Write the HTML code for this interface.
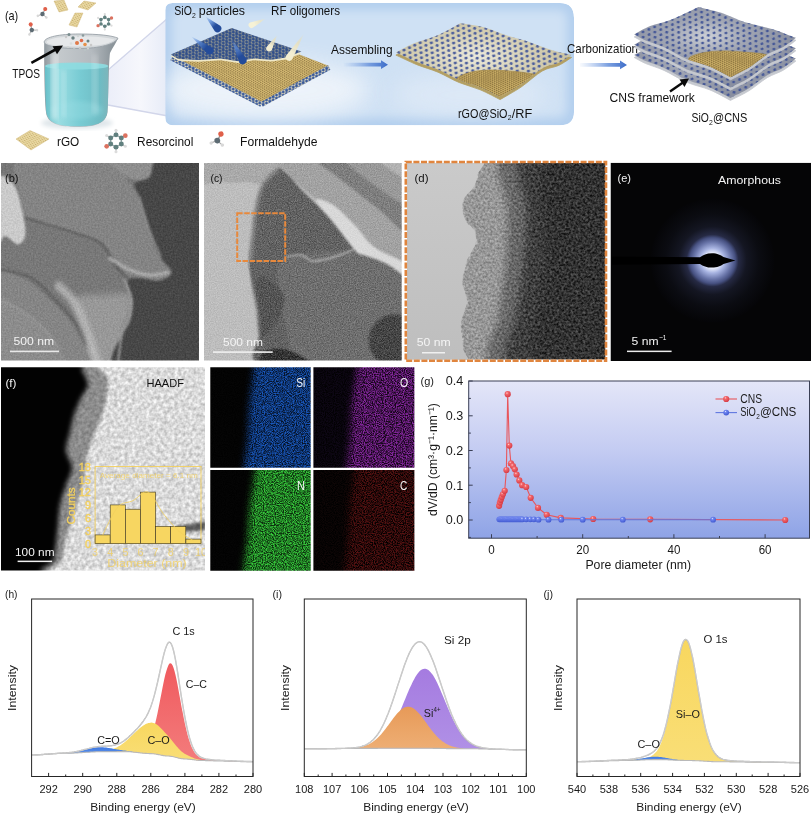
<!DOCTYPE html><html><head><meta charset="utf-8"><title>figure</title><style>html,body{margin:0;padding:0;background:#fff}svg{display:block;opacity:0.999}text{font-family:"Liberation Sans",sans-serif}</style></head><body>
<svg width="811" height="815" viewBox="0 0 811 815">
<rect width="811" height="815" fill="#fff"/>
<defs>
<radialGradient id="boxg" cx="0.40" cy="0.58" r="0.75" gradientTransform="translate(0 0.25) scale(1 0.55)"><stop offset="0" stop-color="#eef3fa"/><stop offset="0.45" stop-color="#dbe7f5"/><stop offset="1" stop-color="#a9c8ec"/></radialGradient>
<linearGradient id="beamg" x1="100" y1="0" x2="168" y2="0" gradientUnits="userSpaceOnUse"><stop offset="0" stop-color="#e9ecf8"/><stop offset="0.6" stop-color="#f6f7fc"/><stop offset="1" stop-color="#e6ebf7"/></linearGradient>
<linearGradient id="liq" x1="44" y1="0" x2="110" y2="0" gradientUnits="userSpaceOnUse"><stop offset="0" stop-color="#62bcc6"/><stop offset="0.22" stop-color="#9adde2"/><stop offset="0.55" stop-color="#78cbd3"/><stop offset="0.85" stop-color="#6fbcc4"/><stop offset="1" stop-color="#7fb4b9"/></linearGradient>
<linearGradient id="glass" x1="44" y1="0" x2="112" y2="0" gradientUnits="userSpaceOnUse"><stop offset="0" stop-color="#8f989e"/><stop offset="0.2" stop-color="#c5cacd"/><stop offset="0.7" stop-color="#b4babf"/><stop offset="1" stop-color="#8c959b"/></linearGradient>
<linearGradient id="arrg" x1="0" y1="0" x2="1" y2="0"><stop offset="0" stop-color="#7fa6e6" stop-opacity="0.05"/><stop offset="0.6" stop-color="#5b88d8" stop-opacity="0.8"/><stop offset="1" stop-color="#3c6cc8"/></linearGradient>
<pattern id="pgold" width="10" height="10" patternUnits="userSpaceOnUse" patternTransform="matrix(0.1821,-0.0848,0.1800,0.0930,171.50,56.50)"><rect width="10" height="10" fill="#d9be76"/><g transform="translate(-7.5,-7.5) matrix(2.887,2.634,-5.588,5.654,0,0)"><circle r="0.62" fill="#8d7542"/></g><g transform="translate(-7.5,2.5) matrix(2.887,2.634,-5.588,5.654,0,0)"><circle r="0.62" fill="#8d7542"/></g><g transform="translate(-7.5,12.5) matrix(2.887,2.634,-5.588,5.654,0,0)"><circle r="0.62" fill="#8d7542"/></g><g transform="translate(2.5,-7.5) matrix(2.887,2.634,-5.588,5.654,0,0)"><circle r="0.62" fill="#8d7542"/></g><g transform="translate(2.5,2.5) matrix(2.887,2.634,-5.588,5.654,0,0)"><circle r="0.62" fill="#8d7542"/></g><g transform="translate(2.5,12.5) matrix(2.887,2.634,-5.588,5.654,0,0)"><circle r="0.62" fill="#8d7542"/></g><g transform="translate(12.5,-7.5) matrix(2.887,2.634,-5.588,5.654,0,0)"><circle r="0.62" fill="#8d7542"/></g><g transform="translate(12.5,2.5) matrix(2.887,2.634,-5.588,5.654,0,0)"><circle r="0.62" fill="#8d7542"/></g><g transform="translate(12.5,12.5) matrix(2.887,2.634,-5.588,5.654,0,0)"><circle r="0.62" fill="#8d7542"/></g></pattern>
<pattern id="pblue" width="10" height="10" patternUnits="userSpaceOnUse" patternTransform="matrix(0.3339,-0.1556,0.3333,0.1722,171.50,56.50)"><rect width="10" height="10" fill="#a9a893"/><g transform="translate(-7.5,-7.5) matrix(1.575,1.422,-3.048,3.053,0,0)"><circle r="1.55" fill="#33508a"/></g><g transform="translate(-7.5,2.5) matrix(1.575,1.422,-3.048,3.053,0,0)"><circle r="1.55" fill="#33508a"/></g><g transform="translate(-7.5,12.5) matrix(1.575,1.422,-3.048,3.053,0,0)"><circle r="1.55" fill="#33508a"/></g><g transform="translate(2.5,-7.5) matrix(1.575,1.422,-3.048,3.053,0,0)"><circle r="1.55" fill="#33508a"/></g><g transform="translate(2.5,2.5) matrix(1.575,1.422,-3.048,3.053,0,0)"><circle r="1.55" fill="#33508a"/></g><g transform="translate(2.5,12.5) matrix(1.575,1.422,-3.048,3.053,0,0)"><circle r="1.55" fill="#33508a"/></g><g transform="translate(12.5,-7.5) matrix(1.575,1.422,-3.048,3.053,0,0)"><circle r="1.55" fill="#33508a"/></g><g transform="translate(12.5,2.5) matrix(1.575,1.422,-3.048,3.053,0,0)"><circle r="1.55" fill="#33508a"/></g><g transform="translate(12.5,12.5) matrix(1.575,1.422,-3.048,3.053,0,0)"><circle r="1.55" fill="#33508a"/></g></pattern>
<pattern id="pedge" width="10" height="10" patternUnits="userSpaceOnUse" patternTransform="matrix(0.3339,-0.1556,0.3333,0.1722,171.50,56.50)"><rect width="10" height="10" fill="#e6dfc0"/><g transform="translate(-7.5,-7.5) matrix(1.575,1.422,-3.048,3.053,0,0)"><circle r="1.5" fill="#35569a"/></g><g transform="translate(-7.5,2.5) matrix(1.575,1.422,-3.048,3.053,0,0)"><circle r="1.5" fill="#35569a"/></g><g transform="translate(-7.5,12.5) matrix(1.575,1.422,-3.048,3.053,0,0)"><circle r="1.5" fill="#35569a"/></g><g transform="translate(2.5,-7.5) matrix(1.575,1.422,-3.048,3.053,0,0)"><circle r="1.5" fill="#35569a"/></g><g transform="translate(2.5,2.5) matrix(1.575,1.422,-3.048,3.053,0,0)"><circle r="1.5" fill="#35569a"/></g><g transform="translate(2.5,12.5) matrix(1.575,1.422,-3.048,3.053,0,0)"><circle r="1.5" fill="#35569a"/></g><g transform="translate(12.5,-7.5) matrix(1.575,1.422,-3.048,3.053,0,0)"><circle r="1.5" fill="#35569a"/></g><g transform="translate(12.5,2.5) matrix(1.575,1.422,-3.048,3.053,0,0)"><circle r="1.5" fill="#35569a"/></g><g transform="translate(12.5,12.5) matrix(1.575,1.422,-3.048,3.053,0,0)"><circle r="1.5" fill="#35569a"/></g></pattern>
<pattern id="pcream" width="10" height="10" patternUnits="userSpaceOnUse" patternTransform="matrix(0.5367,-0.2442,0.5789,0.2539,395.90,52.50)"><g transform="translate(-7.5,-7.5) matrix(0.915,0.880,-2.085,1.933,0,0)"><circle r="1.45" fill="#4b5d9c"/></g><g transform="translate(-7.5,2.5) matrix(0.915,0.880,-2.085,1.933,0,0)"><circle r="1.45" fill="#4b5d9c"/></g><g transform="translate(-7.5,12.5) matrix(0.915,0.880,-2.085,1.933,0,0)"><circle r="1.45" fill="#4b5d9c"/></g><g transform="translate(2.5,-7.5) matrix(0.915,0.880,-2.085,1.933,0,0)"><circle r="1.45" fill="#4b5d9c"/></g><g transform="translate(2.5,2.5) matrix(0.915,0.880,-2.085,1.933,0,0)"><circle r="1.45" fill="#4b5d9c"/></g><g transform="translate(2.5,12.5) matrix(0.915,0.880,-2.085,1.933,0,0)"><circle r="1.45" fill="#4b5d9c"/></g><g transform="translate(12.5,-7.5) matrix(0.915,0.880,-2.085,1.933,0,0)"><circle r="1.45" fill="#4b5d9c"/></g><g transform="translate(12.5,2.5) matrix(0.915,0.880,-2.085,1.933,0,0)"><circle r="1.45" fill="#4b5d9c"/></g><g transform="translate(12.5,12.5) matrix(0.915,0.880,-2.085,1.933,0,0)"><circle r="1.45" fill="#4b5d9c"/></g></pattern>
<pattern id="pgold2" width="10" height="10" patternUnits="userSpaceOnUse" patternTransform="matrix(0.2147,-0.0977,0.2171,0.0952,395.90,52.50)"><rect width="10" height="10" fill="#d6b96e"/><g transform="translate(-7.5,-7.5) matrix(2.286,2.346,-5.213,5.155,0,0)"><circle r="0.8" fill="#866e3a"/></g><g transform="translate(-7.5,2.5) matrix(2.286,2.346,-5.213,5.155,0,0)"><circle r="0.8" fill="#866e3a"/></g><g transform="translate(-7.5,12.5) matrix(2.286,2.346,-5.213,5.155,0,0)"><circle r="0.8" fill="#866e3a"/></g><g transform="translate(2.5,-7.5) matrix(2.286,2.346,-5.213,5.155,0,0)"><circle r="0.8" fill="#866e3a"/></g><g transform="translate(2.5,2.5) matrix(2.286,2.346,-5.213,5.155,0,0)"><circle r="0.8" fill="#866e3a"/></g><g transform="translate(2.5,12.5) matrix(2.286,2.346,-5.213,5.155,0,0)"><circle r="0.8" fill="#866e3a"/></g><g transform="translate(12.5,-7.5) matrix(2.286,2.346,-5.213,5.155,0,0)"><circle r="0.8" fill="#866e3a"/></g><g transform="translate(12.5,2.5) matrix(2.286,2.346,-5.213,5.155,0,0)"><circle r="0.8" fill="#866e3a"/></g><g transform="translate(12.5,12.5) matrix(2.286,2.346,-5.213,5.155,0,0)"><circle r="0.8" fill="#866e3a"/></g></pattern>
<radialGradient id="creamg" cx="0.45" cy="0.45" r="0.6"><stop offset="0" stop-color="#ebe9dc"/><stop offset="0.5" stop-color="#d6d0b6"/><stop offset="1" stop-color="#c8c09e"/></radialGradient>
<pattern id="pgrey" width="10" height="10" patternUnits="userSpaceOnUse" patternTransform="matrix(0.5836,-0.2500,0.6019,0.2650,634.20,34.40)"><g transform="translate(-7.5,-7.5) matrix(0.868,0.819,-1.973,1.913,0,0)"><circle r="1.4" fill="#425596"/></g><g transform="translate(-7.5,2.5) matrix(0.868,0.819,-1.973,1.913,0,0)"><circle r="1.4" fill="#425596"/></g><g transform="translate(-7.5,12.5) matrix(0.868,0.819,-1.973,1.913,0,0)"><circle r="1.4" fill="#425596"/></g><g transform="translate(2.5,-7.5) matrix(0.868,0.819,-1.973,1.913,0,0)"><circle r="1.4" fill="#425596"/></g><g transform="translate(2.5,2.5) matrix(0.868,0.819,-1.973,1.913,0,0)"><circle r="1.4" fill="#425596"/></g><g transform="translate(2.5,12.5) matrix(0.868,0.819,-1.973,1.913,0,0)"><circle r="1.4" fill="#425596"/></g><g transform="translate(12.5,-7.5) matrix(0.868,0.819,-1.973,1.913,0,0)"><circle r="1.4" fill="#425596"/></g><g transform="translate(12.5,2.5) matrix(0.868,0.819,-1.973,1.913,0,0)"><circle r="1.4" fill="#425596"/></g><g transform="translate(12.5,12.5) matrix(0.868,0.819,-1.973,1.913,0,0)"><circle r="1.4" fill="#425596"/></g></pattern>
<pattern id="pgold3" width="10" height="10" patternUnits="userSpaceOnUse" patternTransform="matrix(0.2140,-0.0917,0.2189,0.0964,634.20,34.40)"><rect width="10" height="10" fill="#d6b96e"/><g transform="translate(-7.5,-7.5) matrix(2.369,2.253,-5.380,5.260,0,0)"><circle r="0.8" fill="#866e3a"/></g><g transform="translate(-7.5,2.5) matrix(2.369,2.253,-5.380,5.260,0,0)"><circle r="0.8" fill="#866e3a"/></g><g transform="translate(-7.5,12.5) matrix(2.369,2.253,-5.380,5.260,0,0)"><circle r="0.8" fill="#866e3a"/></g><g transform="translate(2.5,-7.5) matrix(2.369,2.253,-5.380,5.260,0,0)"><circle r="0.8" fill="#866e3a"/></g><g transform="translate(2.5,2.5) matrix(2.369,2.253,-5.380,5.260,0,0)"><circle r="0.8" fill="#866e3a"/></g><g transform="translate(2.5,12.5) matrix(2.369,2.253,-5.380,5.260,0,0)"><circle r="0.8" fill="#866e3a"/></g><g transform="translate(12.5,-7.5) matrix(2.369,2.253,-5.380,5.260,0,0)"><circle r="0.8" fill="#866e3a"/></g><g transform="translate(12.5,2.5) matrix(2.369,2.253,-5.380,5.260,0,0)"><circle r="0.8" fill="#866e3a"/></g><g transform="translate(12.5,12.5) matrix(2.369,2.253,-5.380,5.260,0,0)"><circle r="0.8" fill="#866e3a"/></g></pattern>
<radialGradient id="greyg" cx="0.45" cy="0.42" r="0.55"><stop offset="0" stop-color="#cccfd6"/><stop offset="0.45" stop-color="#a0a5b3"/><stop offset="1" stop-color="#898fa0"/></radialGradient>
<pattern id="pmini" width="10" height="10" patternUnits="userSpaceOnUse" patternTransform="matrix(0.2000,-0.0800,0.1200,0.1600,0.00,0.00)"><rect width="10" height="10" fill="#e9d8a2"/><g transform="translate(-7.5,-7.5) matrix(3.846,1.923,-2.885,4.808,0,0)"><circle r="0.55" fill="#c2a866"/></g><g transform="translate(-7.5,2.5) matrix(3.846,1.923,-2.885,4.808,0,0)"><circle r="0.55" fill="#c2a866"/></g><g transform="translate(-7.5,12.5) matrix(3.846,1.923,-2.885,4.808,0,0)"><circle r="0.55" fill="#c2a866"/></g><g transform="translate(2.5,-7.5) matrix(3.846,1.923,-2.885,4.808,0,0)"><circle r="0.55" fill="#c2a866"/></g><g transform="translate(2.5,2.5) matrix(3.846,1.923,-2.885,4.808,0,0)"><circle r="0.55" fill="#c2a866"/></g><g transform="translate(2.5,12.5) matrix(3.846,1.923,-2.885,4.808,0,0)"><circle r="0.55" fill="#c2a866"/></g><g transform="translate(12.5,-7.5) matrix(3.846,1.923,-2.885,4.808,0,0)"><circle r="0.55" fill="#c2a866"/></g><g transform="translate(12.5,2.5) matrix(3.846,1.923,-2.885,4.808,0,0)"><circle r="0.55" fill="#c2a866"/></g><g transform="translate(12.5,12.5) matrix(3.846,1.923,-2.885,4.808,0,0)"><circle r="0.55" fill="#c2a866"/></g></pattern>
<clipPath id="boxclip"><path d="M172.5,3 H560 Q574,3 574,18 V112 Q574,125.3 560,125.3 H172.5 Q165.3,125.3 165.3,118 V10 Q165.3,3 172.5,3 Z"/></clipPath>
<filter id="sbl5" x="-20%" y="-20%" width="140%" height="140%"><feGaussianBlur stdDeviation="5"/></filter>
<filter id="sbl12" x="-30%" y="-30%" width="160%" height="160%"><feGaussianBlur stdDeviation="12"/></filter>
<linearGradient id="cm0" x1="205.5" y1="16.5" x2="217.5" y2="28.5" gradientUnits="userSpaceOnUse"><stop offset="0" stop-color="#5c8cd8" stop-opacity="0"/><stop offset="0.4" stop-color="#5c8cd8" stop-opacity="0.8"/><stop offset="0.8" stop-color="#244c9a"/><stop offset="1" stop-color="#244c9a"/></linearGradient>
<linearGradient id="cm1" x1="191" y1="36.2" x2="209.6" y2="50.6" gradientUnits="userSpaceOnUse"><stop offset="0" stop-color="#5c8cd8" stop-opacity="0"/><stop offset="0.4" stop-color="#5c8cd8" stop-opacity="0.8"/><stop offset="0.8" stop-color="#244c9a"/><stop offset="1" stop-color="#244c9a"/></linearGradient>
<linearGradient id="cm2" x1="231.2" y1="38.8" x2="242.8" y2="60.6" gradientUnits="userSpaceOnUse"><stop offset="0" stop-color="#5a88d4" stop-opacity="0"/><stop offset="0.4" stop-color="#5a88d4" stop-opacity="0.8"/><stop offset="0.8" stop-color="#244c9a"/><stop offset="1" stop-color="#244c9a"/></linearGradient>
<linearGradient id="cm3" x1="266" y1="18.4" x2="251.4" y2="25.1" gradientUnits="userSpaceOnUse"><stop offset="0" stop-color="#efe6c0" stop-opacity="0"/><stop offset="0.4" stop-color="#efe6c0" stop-opacity="0.8"/><stop offset="0.8" stop-color="#f6f2d6"/><stop offset="1" stop-color="#f6f2d6"/></linearGradient>
<linearGradient id="cm4" x1="277.5" y1="34.6" x2="269.2" y2="48.4" gradientUnits="userSpaceOnUse"><stop offset="0" stop-color="#e8dfba" stop-opacity="0"/><stop offset="0.4" stop-color="#e8dfba" stop-opacity="0.8"/><stop offset="0.8" stop-color="#f2edd2"/><stop offset="1" stop-color="#f2edd2"/></linearGradient>
<linearGradient id="cm5" x1="304.4" y1="33" x2="289.2" y2="57.3" gradientUnits="userSpaceOnUse"><stop offset="0" stop-color="#e8dfba" stop-opacity="0"/><stop offset="0.4" stop-color="#e8dfba" stop-opacity="0.8"/><stop offset="0.8" stop-color="#f3eed2"/><stop offset="1" stop-color="#f3eed2"/></linearGradient>
<clipPath id="cl_top2"><path d="M395.9,52.5 C398.8,51.0 406.6,46.4 413.4,43.6 C420.3,40.8 429.1,39.0 436.9,35.6 C444.7,32.2 456.4,25.3 460.3,23.2 C464.2,23.9 475.9,25.1 483.7,27.2 C491.5,29.3 499.3,33.1 507.2,35.6 C515.0,38.2 522.8,39.9 530.6,42.4 C538.4,45.0 547.2,48.8 554.0,50.8 C560.8,52.9 568.7,54.2 571.6,54.8 C569.4,56.2 563.6,60.5 558.7,62.8 C553.8,65.1 548.5,64.8 542.3,68.4 C536.0,72.0 528.2,79.6 521.2,84.4 C514.2,89.1 503.6,94.9 500.1,97.0 C496.8,95.4 487.0,90.0 480.2,87.2 C473.4,84.3 466.1,82.8 459.1,79.9 C452.1,77.0 445.1,72.6 438.0,69.6 C431.0,66.6 424.0,64.9 416.9,62.1 C409.9,59.2 399.4,54.1 395.9,52.5Z"/></clipPath>
<clipPath id="cl_top3"><path d="M634.2,34.4 C636.9,33.0 644.1,28.6 650.2,26.1 C656.3,23.7 662.8,22.9 670.9,19.7 C678.9,16.5 693.8,9.0 698.4,6.9 C702.2,7.9 713.7,10.3 721.3,12.8 C729.0,15.4 735.9,19.3 744.3,22.0 C752.7,24.7 763.2,26.3 771.8,28.9 C780.4,31.5 791.9,36.4 795.9,37.8 C793.8,39.4 788.0,44.2 783.3,47.0 C778.5,49.8 772.9,51.1 767.2,54.6 C761.5,58.0 755.0,63.9 748.9,67.7 C742.7,71.4 733.6,75.7 730.5,77.3 C727.1,75.5 717.1,69.8 709.9,66.7 C702.6,63.7 694.6,62.4 686.9,59.2 C679.3,55.9 670.9,50.4 664.0,47.2 C657.1,44.1 650.6,42.5 645.6,40.4 C640.7,38.2 636.1,35.4 634.2,34.4Z"/></clipPath>
<filter id="sbl2"><feGaussianBlur stdDeviation="2"/></filter><filter id="sbl05"><feGaussianBlur stdDeviation="0.6"/></filter>
</defs>
<path d="M108,70 L168,18 L168,116 L108,105 Z" fill="url(#beamg)"/>
<path d="M108,70 L168,18" stroke="#d2d6ea" stroke-width="1.4" fill="none" filter="url(#sbl05)"/><path d="M108,105 L168,116" stroke="#d2d6ea" stroke-width="1.4" fill="none" filter="url(#sbl05)"/>
<g clip-path="url(#boxclip)"><path d="M172.5,3 H560 Q574,3 574,18 V112 Q574,125.3 560,125.3 H172.5 Q165.3,125.3 165.3,118 V10 Q165.3,3 172.5,3 Z" fill="#b3cfee"/><rect x="172" y="10" width="395" height="108" rx="8" fill="#cfe1f4" filter="url(#sbl5)"/><ellipse cx="265" cy="90" rx="105" ry="30" fill="#f2f6fb" opacity="0.85" filter="url(#sbl12)"/><ellipse cx="470" cy="95" rx="80" ry="22" fill="#e6eef8" opacity="0.6" filter="url(#sbl12)"/></g>
<ellipse cx="77" cy="123" rx="36" ry="6" fill="#dfe6ea" filter="url(#sbl2)"/>
<path d="M44.2,42 C44,60 44.5,100 46,112 C47,124 60,127 77,127 C94,127 106,124 107.5,112 C108.5,100 108.5,64 110,53 C113,47 116,43 118,38.5 L44.2,42 Z" fill="url(#glass)"/>
<path d="M45,66 C55,62.5 98,62.5 108.3,66 C108.3,100 108,104 107.3,112 C106,124 94,126.3 77,126.3 C60,126.3 48,124 46.3,112 C45.3,100 45,80 45,66 Z" fill="url(#liq)"/>
<ellipse cx="76.7" cy="66" rx="31.6" ry="3.6" fill="#8fdbe0" opacity="0.9"/>
<ellipse cx="77" cy="110" rx="26" ry="9" fill="#9be0e6" opacity="0.35" filter="url(#sbl2)"/>
<path d="M44.2,42 C44.5,37 60,34 79,34 C98,34 112,35.5 118,38.2 C115,44 100,48.5 79,48.5 C58,48.5 44.5,46 44.2,42 Z" fill="#d3d7da" stroke="#9aa2a8" stroke-width="0.9"/>
<path d="M46.5,42 C47,38.5 62,36.2 79,36.2 C96,36.2 109,37.6 114.5,39.6 C111,43.5 98,46.5 79,46.5 C60,46.5 47,45 46.5,42 Z" fill="#e9ebec" opacity="0.85"/>
<rect x="51" y="52" width="7" height="68" rx="3" fill="#fff" opacity="0.38" filter="url(#sbl2)"/><rect x="62" y="70" width="4" height="48" rx="2" fill="#fff" opacity="0.22" filter="url(#sbl2)"/><rect x="92" y="54" width="6" height="60" rx="3" fill="#fff" opacity="0.18" filter="url(#sbl2)"/>
<circle cx="77" cy="43" r="2.0" fill="#e07a4a"/>
<circle cx="81.5" cy="40.5" r="1.8" fill="#e06a4a"/>
<circle cx="73" cy="38" r="1.7" fill="#6a7f80"/>
<circle cx="69" cy="34.5" r="1.5" fill="#7a8d8e"/>
<circle cx="85" cy="44.5" r="1.8" fill="#e6904a"/>
<circle cx="88" cy="41" r="1.5" fill="#6a7f80"/>
<circle cx="91" cy="45" r="1.3" fill="#c9c9c9"/>
<circle cx="66" cy="37" r="1.2" fill="#c9c9c9"/>
<circle cx="80" cy="48" r="1.3" fill="#c9c9c9"/>
<circle cx="74" cy="49" r="1.3" fill="#b9c2c4"/>
<circle cx="85" cy="50" r="1.2" fill="#b9c2c4"/>
<circle cx="71" cy="43.5" r="1.3" fill="#d8dcdc"/>
<circle cx="78" cy="36" r="1.2" fill="#d0d4d4"/>
<circle cx="83" cy="35.5" r="1.3" fill="#8a9a9b"/>
<circle cx="68" cy="47" r="1.1" fill="#d0d4d4"/>
<circle cx="88" cy="48.5" r="1.1" fill="#d0d4d4"/>
<path d="M31.4,62.8 L55.5,49.5" stroke="#0a0a0a" stroke-width="2.6" fill="none"/><path d="M63,45.5 L52.6,46.2 L57,54.2 Z" fill="#0a0a0a"/>
<text x="12.3" y="77.6" font-size="12.2" fill="#111" text-anchor="start" textLength="27.6" lengthAdjust="spacingAndGlyphs">TPOS</text>
<text x="4.9" y="19.6" font-size="12.4" fill="#111" text-anchor="start" textLength="13.3" lengthAdjust="spacingAndGlyphs">(a)</text>
<g transform="translate(54,1)"><path d="M0.0,0.0 L10.0,-1.0 L14.0,9.0 L5.0,11.0Z" fill="url(#pmini)" stroke="#c9ad6a" stroke-width="0.4"/></g>
<g transform="translate(78,1)"><path d="M6.0,0.0 L18.0,2.0 L10.0,9.0 L0.0,6.0Z" fill="url(#pmini)" stroke="#c9ad6a" stroke-width="0.4"/></g>
<g transform="translate(69,13)"><path d="M6.0,0.0 L14.0,0.0 L8.0,14.0 L0.0,12.0Z" fill="url(#pmini)" stroke="#c9ad6a" stroke-width="0.4"/></g>
<g transform="translate(42.5,14) rotate(-10) scale(0.85)"><line x1="0" y1="0" x2="4" y2="-5" stroke="#999" stroke-width="1.2"/><line x1="0" y1="0" x2="-5.5" y2="1" stroke="#aaa" stroke-width="1"/><line x1="0" y1="0" x2="3.5" y2="4.5" stroke="#aaa" stroke-width="1"/><circle cx="0" cy="0" r="2.6" fill="#5d6b73"/><circle cx="4.2" cy="-5.2" r="2.4" fill="#e0604a"/><circle cx="-5.8" cy="1.2" r="1.5" fill="#d8d8d8"/><circle cx="3.8" cy="4.8" r="1.5" fill="#d8d8d8"/></g>
<g transform="translate(31.8,30) rotate(-50) scale(0.85)"><line x1="0" y1="0" x2="4" y2="-5" stroke="#999" stroke-width="1.2"/><line x1="0" y1="0" x2="-5.5" y2="1" stroke="#aaa" stroke-width="1"/><line x1="0" y1="0" x2="3.5" y2="4.5" stroke="#aaa" stroke-width="1"/><circle cx="0" cy="0" r="2.6" fill="#5d6b73"/><circle cx="4.2" cy="-5.2" r="2.4" fill="#e0604a"/><circle cx="-5.8" cy="1.2" r="1.5" fill="#d8d8d8"/><circle cx="3.8" cy="4.8" r="1.5" fill="#d8d8d8"/></g>
<g transform="translate(104.8,21.8) scale(0.85)"><path d="M0.0,-5.2 L4.5,-2.6 L4.5,2.6 L0.0,5.2 L-4.5,2.6 L-4.5,-2.6Z" fill="none" stroke="#9aa" stroke-width="1.1"/><line x1="0.0" y1="-5.2" x2="0.0" y2="-9.1" stroke="#bbb" stroke-width="0.9"/><circle cx="0.0" cy="-9.1" r="1.3" fill="#dcdcdc"/><line x1="4.5" y1="-2.6" x2="7.9" y2="-4.5" stroke="#bbb" stroke-width="0.9"/><circle cx="7.9" cy="-4.5" r="2" fill="#dc7260"/><line x1="4.5" y1="2.6" x2="7.9" y2="4.5" stroke="#bbb" stroke-width="0.9"/><circle cx="7.9" cy="4.5" r="1.3" fill="#dcdcdc"/><line x1="0.0" y1="5.2" x2="0.0" y2="9.1" stroke="#bbb" stroke-width="0.9"/><circle cx="0.0" cy="9.1" r="1.3" fill="#dcdcdc"/><line x1="-4.5" y1="2.6" x2="-7.9" y2="4.5" stroke="#bbb" stroke-width="0.9"/><circle cx="-7.9" cy="4.5" r="2" fill="#dc7260"/><line x1="-4.5" y1="-2.6" x2="-7.9" y2="-4.6" stroke="#bbb" stroke-width="0.9"/><circle cx="-7.9" cy="-4.6" r="1.3" fill="#dcdcdc"/><circle cx="0.0" cy="-5.2" r="2.1" fill="#61807f"/><circle cx="4.5" cy="-2.6" r="2.1" fill="#61807f"/><circle cx="4.5" cy="2.6" r="2.1" fill="#61807f"/><circle cx="0.0" cy="5.2" r="2.1" fill="#61807f"/><circle cx="-4.5" cy="2.6" r="2.1" fill="#61807f"/><circle cx="-4.5" cy="-2.6" r="2.1" fill="#61807f"/></g>
<g transform="translate(16,133)"><path d="M0.0,6.0 L14.0,-2.5 L33.0,6.0 L15.0,17.0Z" fill="url(#pmini)" stroke="#c9ad6a" stroke-width="0.4"/></g>
<text x="57.0" y="146.4" font-size="12.2" fill="#111" text-anchor="start" textLength="22.3" lengthAdjust="spacingAndGlyphs">rGO</text>
<g transform="translate(116,141) scale(1.18)"><path d="M0.0,-5.2 L4.5,-2.6 L4.5,2.6 L0.0,5.2 L-4.5,2.6 L-4.5,-2.6Z" fill="none" stroke="#9aa" stroke-width="1.1"/><line x1="0.0" y1="-5.2" x2="0.0" y2="-9.1" stroke="#bbb" stroke-width="0.9"/><circle cx="0.0" cy="-9.1" r="1.3" fill="#dcdcdc"/><line x1="4.5" y1="-2.6" x2="7.9" y2="-4.5" stroke="#bbb" stroke-width="0.9"/><circle cx="7.9" cy="-4.5" r="2" fill="#dc7260"/><line x1="4.5" y1="2.6" x2="7.9" y2="4.5" stroke="#bbb" stroke-width="0.9"/><circle cx="7.9" cy="4.5" r="1.3" fill="#dcdcdc"/><line x1="0.0" y1="5.2" x2="0.0" y2="9.1" stroke="#bbb" stroke-width="0.9"/><circle cx="0.0" cy="9.1" r="1.3" fill="#dcdcdc"/><line x1="-4.5" y1="2.6" x2="-7.9" y2="4.5" stroke="#bbb" stroke-width="0.9"/><circle cx="-7.9" cy="4.5" r="2" fill="#dc7260"/><line x1="-4.5" y1="-2.6" x2="-7.9" y2="-4.6" stroke="#bbb" stroke-width="0.9"/><circle cx="-7.9" cy="-4.6" r="1.3" fill="#dcdcdc"/><circle cx="0.0" cy="-5.2" r="2.1" fill="#61807f"/><circle cx="4.5" cy="-2.6" r="2.1" fill="#61807f"/><circle cx="4.5" cy="2.6" r="2.1" fill="#61807f"/><circle cx="0.0" cy="5.2" r="2.1" fill="#61807f"/><circle cx="-4.5" cy="2.6" r="2.1" fill="#61807f"/><circle cx="-4.5" cy="-2.6" r="2.1" fill="#61807f"/></g>
<text x="137.1" y="146.4" font-size="12.2" fill="#111" text-anchor="start" textLength="56.2" lengthAdjust="spacingAndGlyphs">Resorcinol</text>
<g transform="translate(217.3,140.6) rotate(-10) scale(1.12)"><line x1="0" y1="0" x2="4" y2="-5" stroke="#999" stroke-width="1.2"/><line x1="0" y1="0" x2="-5.5" y2="1" stroke="#aaa" stroke-width="1"/><line x1="0" y1="0" x2="3.5" y2="4.5" stroke="#aaa" stroke-width="1"/><circle cx="0" cy="0" r="2.6" fill="#5d6b73"/><circle cx="4.2" cy="-5.2" r="2.4" fill="#e0604a"/><circle cx="-5.8" cy="1.2" r="1.5" fill="#d8d8d8"/><circle cx="3.8" cy="4.8" r="1.5" fill="#d8d8d8"/></g>
<text x="240.0" y="146.4" font-size="12.2" fill="#111" text-anchor="start" textLength="77.4" lengthAdjust="spacingAndGlyphs">Formaldehyde</text>
<path d="M171.5,56.5 L231.6,28.5 L329.2,66.0 L261.5,103.0Z" fill="url(#pgold)"/>
<path d="M171.5,56.5 L261.5,103.0Z" stroke="url(#pedge)" stroke-width="5" fill="none" transform="translate(0,1.5)"/>
<path d="M261.5,103.0 L329.2,66.0Z" stroke="url(#pedge)" stroke-width="5" fill="none" transform="translate(0,1.5)"/>
<path d="M170.8,56.3 L231.6,29.6 L301.5,53.4 L285.9,59.4 L271.5,61.6 L253.8,60.3 L238.2,62.9 L220.5,60.3 L198.3,61.8 L178.3,60.7Z" fill="#efe8c8"/>
<path d="M170.8,54.5 L231.6,27.9 L301.5,51.6 L285.9,57.6 L271.5,59.8 L253.8,58.5 L238.2,61.2 L220.5,58.5 L198.3,60.1 L178.3,58.9Z" fill="url(#pblue)"/>
<path d="M205.5,16.5 L214.8,31.2 A3.8,3.8 0 0 0 220.2,25.8 Z" fill="url(#cm0)"/>
<path d="M191.0,36.2 L207.2,53.8 A4.0,4.0 0 0 0 212.0,47.4 Z" fill="url(#cm1)"/>
<path d="M231.2,38.8 L239.3,62.5 A4.0,4.0 0 0 0 246.3,58.7 Z" fill="url(#cm2)"/>
<path d="M266.0,18.4 L250.1,22.4 A3.0,3.0 0 0 0 252.7,27.8 Z" fill="url(#cm3)"/>
<path d="M277.5,34.6 L266.6,46.9 A3.0,3.0 0 0 0 271.8,49.9 Z" fill="url(#cm4)"/>
<path d="M304.4,33.0 L286.2,55.4 A3.5,3.5 0 0 0 292.2,59.2 Z" fill="url(#cm5)"/>
<text x="174.3" y="15.4" font-size="12.4" fill="#111" text-anchor="start" textLength="17.5" lengthAdjust="spacingAndGlyphs">SiO</text>
<text x="192.0" y="18.3" font-size="7.3" fill="#111" text-anchor="start" textLength="3.8" lengthAdjust="spacingAndGlyphs">2</text>
<text x="198.8" y="15.4" font-size="12.4" fill="#111" text-anchor="start" textLength="46.2" lengthAdjust="spacingAndGlyphs">particles</text>
<text x="271.0" y="15.4" font-size="12.4" fill="#111" text-anchor="start" textLength="69.0" lengthAdjust="spacingAndGlyphs">RF oligomers</text>
<text x="331.0" y="54.3" font-size="12.4" fill="#111" text-anchor="start" textLength="61.5" lengthAdjust="spacingAndGlyphs">Assembling</text>
<path d="M344,62.8 H381 V60.3 L388,64.7 L381,69 V66.6 H344 Z" fill="url(#arrg)"/>
<text x="567.0" y="53.3" font-size="12.4" fill="#111" text-anchor="start" textLength="71.0" lengthAdjust="spacingAndGlyphs">Carbonization</text>
<path d="M580,63 H620 V60.5 L627,64.9 L620,69.2 V66.8 H580 Z" fill="url(#arrg)"/>
<path d="M395.9,52.5 C398.8,51.0 406.6,46.4 413.4,43.6 C420.3,40.8 429.1,39.0 436.9,35.6 C444.7,32.2 456.4,25.3 460.3,23.2 C464.2,23.9 475.9,25.1 483.7,27.2 C491.5,29.3 499.3,33.1 507.2,35.6 C515.0,38.2 522.8,39.9 530.6,42.4 C538.4,45.0 547.2,48.8 554.0,50.8 C560.8,52.9 568.7,54.2 571.6,54.8 C569.4,56.2 563.6,60.5 558.7,62.8 C553.8,65.1 548.5,64.8 542.3,68.4 C536.0,72.0 528.2,79.6 521.2,84.4 C514.2,89.1 503.6,94.9 500.1,97.0 C496.8,95.4 487.0,90.0 480.2,87.2 C473.4,84.3 466.1,82.8 459.1,79.9 C452.1,77.0 445.1,72.6 438.0,69.6 C431.0,66.6 424.0,64.9 416.9,62.1 C409.9,59.2 399.4,54.1 395.9,52.5Z" fill="#b39f63" transform="translate(0,2.6)" stroke="#b39f63" stroke-width="0.8" stroke-linejoin="round"/>
<path d="M395.9,52.5 C398.8,51.0 406.6,46.4 413.4,43.6 C420.3,40.8 429.1,39.0 436.9,35.6 C444.7,32.2 456.4,25.3 460.3,23.2 C464.2,23.9 475.9,25.1 483.7,27.2 C491.5,29.3 499.3,33.1 507.2,35.6 C515.0,38.2 522.8,39.9 530.6,42.4 C538.4,45.0 547.2,48.8 554.0,50.8 C560.8,52.9 568.7,54.2 571.6,54.8 C569.4,56.2 563.6,60.5 558.7,62.8 C553.8,65.1 548.5,64.8 542.3,68.4 C536.0,72.0 528.2,79.6 521.2,84.4 C514.2,89.1 503.6,94.9 500.1,97.0 C496.8,95.4 487.0,90.0 480.2,87.2 C473.4,84.3 466.1,82.8 459.1,79.9 C452.1,77.0 445.1,72.6 438.0,69.6 C431.0,66.6 424.0,64.9 416.9,62.1 C409.9,59.2 399.4,54.1 395.9,52.5Z" fill="url(#creamg)"/>
<path d="M395.9,52.5 C398.8,51.0 406.6,46.4 413.4,43.6 C420.3,40.8 429.1,39.0 436.9,35.6 C444.7,32.2 456.4,25.3 460.3,23.2 C464.2,23.9 475.9,25.1 483.7,27.2 C491.5,29.3 499.3,33.1 507.2,35.6 C515.0,38.2 522.8,39.9 530.6,42.4 C538.4,45.0 547.2,48.8 554.0,50.8 C560.8,52.9 568.7,54.2 571.6,54.8 C569.4,56.2 563.6,60.5 558.7,62.8 C553.8,65.1 548.5,64.8 542.3,68.4 C536.0,72.0 528.2,79.6 521.2,84.4 C514.2,89.1 503.6,94.9 500.1,97.0 C496.8,95.4 487.0,90.0 480.2,87.2 C473.4,84.3 466.1,82.8 459.1,79.9 C452.1,77.0 445.1,72.6 438.0,69.6 C431.0,66.6 424.0,64.9 416.9,62.1 C409.9,59.2 399.4,54.1 395.9,52.5Z" fill="url(#pcream)"/>
<g clip-path="url(#cl_top2)"><path d="M456.8,78.7 C457.6,76.6 464.4,73.8 469.7,72.4 C474.9,71.0 481.4,70.3 488.4,70.1 C495.4,69.9 504.8,70.6 511.8,71.2 C518.9,71.8 525.9,72.7 530.6,73.6 C535.3,74.4 539.6,74.4 540.0,76.4 C540.3,78.3 536.8,82.2 532.9,85.3 C529.0,88.3 522.0,91.7 516.5,94.7 C511.1,97.6 505.6,102.7 500.1,102.9 C494.7,103.1 489.6,98.8 483.7,95.8 C477.9,92.9 469.5,88.1 465.0,85.3 C460.5,82.4 456.0,80.9 456.8,78.7Z" fill="url(#pgold2)" stroke="#a88c4c" stroke-width="0.7"/></g>
<text x="458.0" y="117.5" font-size="12.4" fill="#111" text-anchor="start" textLength="49.5" lengthAdjust="spacingAndGlyphs">rGO@SiO</text>
<text x="507.8" y="120.3" font-size="7.3" fill="#111" text-anchor="start" textLength="3.8" lengthAdjust="spacingAndGlyphs">2</text>
<text x="511.8" y="117.5" font-size="12.4" fill="#111" text-anchor="start" textLength="20.5" lengthAdjust="spacingAndGlyphs">/RF</text>
<path d="M634.2,55.0 C636.9,53.7 644.1,49.2 650.2,46.8 C656.3,44.3 662.8,43.6 670.9,40.4 C678.9,37.2 693.8,29.7 698.4,27.5 C702.2,28.5 713.7,31.0 721.3,33.5 C729.0,36.0 735.9,40.0 744.3,42.7 C752.7,45.3 763.2,46.9 771.8,49.5 C780.4,52.2 791.9,57.0 795.9,58.5 C793.8,60.0 788.0,64.9 783.3,67.7 C778.5,70.5 772.9,71.8 767.2,75.2 C761.5,78.7 755.0,84.5 748.9,88.3 C742.7,92.1 733.6,96.3 730.5,97.9 C727.1,96.2 717.1,90.4 709.9,87.4 C702.6,84.4 694.6,83.1 686.9,79.8 C679.3,76.6 670.9,71.0 664.0,67.9 C657.1,64.8 650.6,63.1 645.6,61.0 C640.7,58.9 636.1,56.0 634.2,55.0Z" fill="#c6c9cf" stroke="#c6c9cf" stroke-width="0.8" stroke-linejoin="round" transform="translate(0,2.5)"/>
<path d="M634.2,55.0 C636.9,53.7 644.1,49.2 650.2,46.8 C656.3,44.3 662.8,43.6 670.9,40.4 C678.9,37.2 693.8,29.7 698.4,27.5 C702.2,28.5 713.7,31.0 721.3,33.5 C729.0,36.0 735.9,40.0 744.3,42.7 C752.7,45.3 763.2,46.9 771.8,49.5 C780.4,52.2 791.9,57.0 795.9,58.5 C793.8,60.0 788.0,64.9 783.3,67.7 C778.5,70.5 772.9,71.8 767.2,75.2 C761.5,78.7 755.0,84.5 748.9,88.3 C742.7,92.1 733.6,96.3 730.5,97.9 C727.1,96.2 717.1,90.4 709.9,87.4 C702.6,84.4 694.6,83.1 686.9,79.8 C679.3,76.6 670.9,71.0 664.0,67.9 C657.1,64.8 650.6,63.1 645.6,61.0 C640.7,58.9 636.1,56.0 634.2,55.0Z" fill="url(#greyg)"/>
<path d="M634.2,55.0 C636.9,53.7 644.1,49.2 650.2,46.8 C656.3,44.3 662.8,43.6 670.9,40.4 C678.9,37.2 693.8,29.7 698.4,27.5 C702.2,28.5 713.7,31.0 721.3,33.5 C729.0,36.0 735.9,40.0 744.3,42.7 C752.7,45.3 763.2,46.9 771.8,49.5 C780.4,52.2 791.9,57.0 795.9,58.5 C793.8,60.0 788.0,64.9 783.3,67.7 C778.5,70.5 772.9,71.8 767.2,75.2 C761.5,78.7 755.0,84.5 748.9,88.3 C742.7,92.1 733.6,96.3 730.5,97.9 C727.1,96.2 717.1,90.4 709.9,87.4 C702.6,84.4 694.6,83.1 686.9,79.8 C679.3,76.6 670.9,71.0 664.0,67.9 C657.1,64.8 650.6,63.1 645.6,61.0 C640.7,58.9 636.1,56.0 634.2,55.0Z" fill="url(#pgrey)"/>
<path d="M634.2,44.7 C636.9,43.3 644.1,38.9 650.2,36.5 C656.3,34.0 662.8,33.3 670.9,30.0 C678.9,26.8 693.8,19.3 698.4,17.2 C702.2,18.2 713.7,20.6 721.3,23.2 C729.0,25.7 735.9,29.7 744.3,32.3 C752.7,35.0 763.2,36.6 771.8,39.2 C780.4,41.9 791.9,46.7 795.9,48.2 C793.8,49.7 788.0,54.5 783.3,57.3 C778.5,60.1 772.9,61.5 767.2,64.9 C761.5,68.3 755.0,74.2 748.9,78.0 C742.7,81.8 733.6,86.0 730.5,87.6 C727.1,85.9 717.1,80.1 709.9,77.1 C702.6,74.0 694.6,72.7 686.9,69.5 C679.3,66.2 670.9,60.7 664.0,57.6 C657.1,54.4 650.6,52.8 645.6,50.7 C640.7,48.5 636.1,45.7 634.2,44.7Z" fill="#c6c9cf" stroke="#c6c9cf" stroke-width="0.8" stroke-linejoin="round" transform="translate(0,2.5)"/>
<path d="M634.2,44.7 C636.9,43.3 644.1,38.9 650.2,36.5 C656.3,34.0 662.8,33.3 670.9,30.0 C678.9,26.8 693.8,19.3 698.4,17.2 C702.2,18.2 713.7,20.6 721.3,23.2 C729.0,25.7 735.9,29.7 744.3,32.3 C752.7,35.0 763.2,36.6 771.8,39.2 C780.4,41.9 791.9,46.7 795.9,48.2 C793.8,49.7 788.0,54.5 783.3,57.3 C778.5,60.1 772.9,61.5 767.2,64.9 C761.5,68.3 755.0,74.2 748.9,78.0 C742.7,81.8 733.6,86.0 730.5,87.6 C727.1,85.9 717.1,80.1 709.9,77.1 C702.6,74.0 694.6,72.7 686.9,69.5 C679.3,66.2 670.9,60.7 664.0,57.6 C657.1,54.4 650.6,52.8 645.6,50.7 C640.7,48.5 636.1,45.7 634.2,44.7Z" fill="url(#greyg)"/>
<path d="M634.2,44.7 C636.9,43.3 644.1,38.9 650.2,36.5 C656.3,34.0 662.8,33.3 670.9,30.0 C678.9,26.8 693.8,19.3 698.4,17.2 C702.2,18.2 713.7,20.6 721.3,23.2 C729.0,25.7 735.9,29.7 744.3,32.3 C752.7,35.0 763.2,36.6 771.8,39.2 C780.4,41.9 791.9,46.7 795.9,48.2 C793.8,49.7 788.0,54.5 783.3,57.3 C778.5,60.1 772.9,61.5 767.2,64.9 C761.5,68.3 755.0,74.2 748.9,78.0 C742.7,81.8 733.6,86.0 730.5,87.6 C727.1,85.9 717.1,80.1 709.9,77.1 C702.6,74.0 694.6,72.7 686.9,69.5 C679.3,66.2 670.9,60.7 664.0,57.6 C657.1,54.4 650.6,52.8 645.6,50.7 C640.7,48.5 636.1,45.7 634.2,44.7Z" fill="url(#pgrey)"/>
<path d="M634.2,34.4 C636.9,33.0 644.1,28.6 650.2,26.1 C656.3,23.7 662.8,22.9 670.9,19.7 C678.9,16.5 693.8,9.0 698.4,6.9 C702.2,7.9 713.7,10.3 721.3,12.8 C729.0,15.4 735.9,19.3 744.3,22.0 C752.7,24.7 763.2,26.3 771.8,28.9 C780.4,31.5 791.9,36.4 795.9,37.8 C793.8,39.4 788.0,44.2 783.3,47.0 C778.5,49.8 772.9,51.1 767.2,54.6 C761.5,58.0 755.0,63.9 748.9,67.7 C742.7,71.4 733.6,75.7 730.5,77.3 C727.1,75.5 717.1,69.8 709.9,66.7 C702.6,63.7 694.6,62.4 686.9,59.2 C679.3,55.9 670.9,50.4 664.0,47.2 C657.1,44.1 650.6,42.5 645.6,40.4 C640.7,38.2 636.1,35.4 634.2,34.4Z" fill="#c6c9cf" stroke="#c6c9cf" stroke-width="0.8" stroke-linejoin="round" transform="translate(0,2.5)"/>
<path d="M634.2,34.4 C636.9,33.0 644.1,28.6 650.2,26.1 C656.3,23.7 662.8,22.9 670.9,19.7 C678.9,16.5 693.8,9.0 698.4,6.9 C702.2,7.9 713.7,10.3 721.3,12.8 C729.0,15.4 735.9,19.3 744.3,22.0 C752.7,24.7 763.2,26.3 771.8,28.9 C780.4,31.5 791.9,36.4 795.9,37.8 C793.8,39.4 788.0,44.2 783.3,47.0 C778.5,49.8 772.9,51.1 767.2,54.6 C761.5,58.0 755.0,63.9 748.9,67.7 C742.7,71.4 733.6,75.7 730.5,77.3 C727.1,75.5 717.1,69.8 709.9,66.7 C702.6,63.7 694.6,62.4 686.9,59.2 C679.3,55.9 670.9,50.4 664.0,47.2 C657.1,44.1 650.6,42.5 645.6,40.4 C640.7,38.2 636.1,35.4 634.2,34.4Z" fill="url(#greyg)"/>
<path d="M634.2,34.4 C636.9,33.0 644.1,28.6 650.2,26.1 C656.3,23.7 662.8,22.9 670.9,19.7 C678.9,16.5 693.8,9.0 698.4,6.9 C702.2,7.9 713.7,10.3 721.3,12.8 C729.0,15.4 735.9,19.3 744.3,22.0 C752.7,24.7 763.2,26.3 771.8,28.9 C780.4,31.5 791.9,36.4 795.9,37.8 C793.8,39.4 788.0,44.2 783.3,47.0 C778.5,49.8 772.9,51.1 767.2,54.6 C761.5,58.0 755.0,63.9 748.9,67.7 C742.7,71.4 733.6,75.7 730.5,77.3 C727.1,75.5 717.1,69.8 709.9,66.7 C702.6,63.7 694.6,62.4 686.9,59.2 C679.3,55.9 670.9,50.4 664.0,47.2 C657.1,44.1 650.6,42.5 645.6,40.4 C640.7,38.2 636.1,35.4 634.2,34.4Z" fill="url(#pgrey)"/>
<g clip-path="url(#cl_top3)"><path d="M688.8,58.3 C689.9,56.2 697.2,54.0 703.0,52.8 C708.8,51.5 716.4,51.0 723.6,50.9 C730.9,50.8 739.4,51.6 746.6,52.3 C753.7,53.0 763.7,53.2 766.7,55.0 C769.8,56.8 767.9,60.0 764.9,63.1 C761.9,66.1 754.6,70.0 748.9,73.4 C743.1,76.8 736.6,83.5 730.5,83.7 C724.4,83.9 717.9,77.6 712.2,74.5 C706.4,71.5 700.0,68.1 696.1,65.4 C692.2,62.7 687.6,60.4 688.8,58.3Z" fill="url(#pgold3)" stroke="#a88c4c" stroke-width="0.7"/></g>
<path d="M670,91.5 L683,82.5" stroke="#0a0a0a" stroke-width="2.4" fill="none"/><path d="M689,78.5 L679.5,79.6 L684.5,87 Z" fill="#0a0a0a"/>
<text x="609.5" y="101.6" font-size="12.4" fill="#111" text-anchor="start" textLength="85.2" lengthAdjust="spacingAndGlyphs">CNS framework</text>
<text x="691.5" y="121.7" font-size="12.4" fill="#111" text-anchor="start" textLength="17.3" lengthAdjust="spacingAndGlyphs">SiO</text>
<text x="709.0" y="124.6" font-size="7.3" fill="#111" text-anchor="start" textLength="3.8" lengthAdjust="spacingAndGlyphs">2</text>
<text x="713.0" y="121.7" font-size="12.4" fill="#111" text-anchor="start" textLength="34.3" lengthAdjust="spacingAndGlyphs">@CNS</text>
<defs>
<clipPath id="cp_b"><rect x="1" y="163" width="198" height="197.5"/></clipPath>
<clipPath id="cp_c"><rect x="204" y="163" width="197.7" height="197.5"/></clipPath>
<clipPath id="cp_d"><rect x="407" y="163" width="198.3" height="196.5"/></clipPath>
<clipPath id="cp_e"><rect x="610.5" y="162.7" width="200.5" height="198.3"/></clipPath>
<clipPath id="cp_f"><rect x="1" y="367.3" width="204" height="203.2"/></clipPath>
<clipPath id="cp_si"><rect x="210.3" y="367.3" width="100.4" height="100.4"/></clipPath>
<clipPath id="cp_o"><rect x="313.4" y="367.3" width="101" height="100.4"/></clipPath>
<clipPath id="cp_n"><rect x="210.3" y="470" width="100.4" height="100.8"/></clipPath>
<clipPath id="cp_cc"><rect x="313.4" y="470" width="101" height="100.8"/></clipPath>
<filter id="gr_b" x="0" y="0" width="100%" height="100%" color-interpolation-filters="sRGB"><feGaussianBlur in="SourceGraphic" stdDeviation="1.1" result="b"/><feTurbulence type="fractalNoise" baseFrequency="0.6" numOctaves="2" seed="3" result="n"/><feColorMatrix in="n" type="matrix" values="1.6 0 0 0 -0.3  1.6 0 0 0 -0.3  1.6 0 0 0 -0.3  0 0 0 0 1" result="g"/><feComposite in="b" in2="g" operator="arithmetic" k1="0.0" k2="1.0" k3="0.1" k4="-0.05"/></filter>
<filter id="gr_c" x="0" y="0" width="100%" height="100%" color-interpolation-filters="sRGB"><feGaussianBlur in="SourceGraphic" stdDeviation="0.8" result="b"/><feTurbulence type="fractalNoise" baseFrequency="0.85" numOctaves="2" seed="5" result="n"/><feColorMatrix in="n" type="matrix" values="1.6 0 0 0 -0.3  1.6 0 0 0 -0.3  1.6 0 0 0 -0.3  0 0 0 0 1" result="g"/><feComposite in="b" in2="g" operator="arithmetic" k1="-0.35" k2="1.175" k3="0.36" k4="-0.18"/></filter>
<filter id="gr_d" x="0" y="0" width="100%" height="100%" color-interpolation-filters="sRGB"><feGaussianBlur in="SourceGraphic" stdDeviation="1.0" result="b"/><feTurbulence type="fractalNoise" baseFrequency="0.42" numOctaves="2" seed="7" result="n"/><feColorMatrix in="n" type="matrix" values="1.6 0 0 0 -0.3  1.6 0 0 0 -0.3  1.6 0 0 0 -0.3  0 0 0 0 1" result="g"/><feComposite in="b" in2="g" operator="arithmetic" k1="-0.15" k2="1.075" k3="0.34" k4="-0.17"/></filter>
<filter id="gr_f" x="0" y="0" width="100%" height="100%" color-interpolation-filters="sRGB"><feGaussianBlur in="SourceGraphic" stdDeviation="1.2" result="b"/><feTurbulence type="fractalNoise" baseFrequency="0.28" numOctaves="2" seed="9" result="n"/><feColorMatrix in="n" type="matrix" values="1.6 0 0 0 -0.3  1.6 0 0 0 -0.3  1.6 0 0 0 -0.3  0 0 0 0 1" result="g"/><feComposite in="b" in2="g" operator="arithmetic" k1="0.3" k2="0.85" k3="0.0" k4="-0.0"/></filter>
<filter id="bl1"><feGaussianBlur stdDeviation="1"/></filter>
<filter id="bl2"><feGaussianBlur stdDeviation="2"/></filter>
<filter id="bl3"><feGaussianBlur stdDeviation="3.5"/></filter>
<filter id="bl6"><feGaussianBlur stdDeviation="6"/></filter>
<filter id="eds1" x="0" y="0" width="100%" height="100%" color-interpolation-filters="sRGB"><feGaussianBlur in="SourceGraphic" stdDeviation="3.6" result="b"/><feTurbulence type="fractalNoise" baseFrequency="0.9" numOctaves="2" seed="11" result="n"/><feColorMatrix in="n" type="matrix" values="2.6 0 0 0 -0.8  2.6 0 0 0 -0.8  2.6 0 0 0 -0.8  0 0 0 0 1" result="g"/><feComposite in="b" in2="g" operator="arithmetic" k1="1.3" k2="0.35" k3="0" k4="0"/></filter>
<filter id="eds2" x="0" y="0" width="100%" height="100%" color-interpolation-filters="sRGB"><feGaussianBlur in="SourceGraphic" stdDeviation="3.6" result="b"/><feTurbulence type="fractalNoise" baseFrequency="0.9" numOctaves="2" seed="23" result="n"/><feColorMatrix in="n" type="matrix" values="2.6 0 0 0 -0.8  2.6 0 0 0 -0.8  2.6 0 0 0 -0.8  0 0 0 0 1" result="g"/><feComposite in="b" in2="g" operator="arithmetic" k1="1.5" k2="0.25" k3="0" k4="0"/></filter>
<filter id="eds3" x="0" y="0" width="100%" height="100%" color-interpolation-filters="sRGB"><feGaussianBlur in="SourceGraphic" stdDeviation="3.6" result="b"/><feTurbulence type="fractalNoise" baseFrequency="0.9" numOctaves="2" seed="31" result="n"/><feColorMatrix in="n" type="matrix" values="2.6 0 0 0 -0.8  2.6 0 0 0 -0.8  2.6 0 0 0 -0.8  0 0 0 0 1" result="g"/><feComposite in="b" in2="g" operator="arithmetic" k1="1.3" k2="0.35" k3="0" k4="0"/></filter>
<filter id="eds4" x="0" y="0" width="100%" height="100%" color-interpolation-filters="sRGB"><feGaussianBlur in="SourceGraphic" stdDeviation="3.6" result="b"/><feTurbulence type="fractalNoise" baseFrequency="0.9" numOctaves="2" seed="47" result="n"/><feColorMatrix in="n" type="matrix" values="2.6 0 0 0 -0.8  2.6 0 0 0 -0.8  2.6 0 0 0 -0.8  0 0 0 0 1" result="g"/><feComposite in="b" in2="g" operator="arithmetic" k1="2.0" k2="0.0" k3="0" k4="0"/></filter>
<radialGradient id="halo" cx="712.5" cy="260.6" r="62" gradientUnits="userSpaceOnUse"><stop offset="0" stop-color="#ffffff"/><stop offset="0.12" stop-color="#eef2ff"/><stop offset="0.2" stop-color="#a8b4e2"/><stop offset="0.3" stop-color="#6a76aa"/><stop offset="0.37" stop-color="#465080"/><stop offset="0.42" stop-color="#262a44"/><stop offset="0.55" stop-color="#141622"/><stop offset="0.75" stop-color="#0b0c12"/><stop offset="1" stop-color="#050507"/></radialGradient>
<filter id="bl05"><feGaussianBlur stdDeviation="0.6"/></filter></defs>
<g clip-path="url(#cp_b)"><g filter="url(#gr_b)">
<rect x="-5" y="155" width="215" height="215" fill="#767676"/>
<path d="M19.9,157.5 C34.5,150.9 88.8,153.4 107.1,157.5 C125.4,161.7 124.1,175.4 129.5,182.4 C134.9,189.5 136.2,192.0 139.5,199.9 C142.8,207.7 146.1,220.6 149.4,229.7 C152.8,238.9 155.9,247.6 159.4,254.6 C162.9,261.7 170.6,267.8 170.6,272.1 C170.6,276.3 164.6,279.1 159.4,280.0 C154.2,281.0 144.9,278.5 139.5,277.6 C134.1,276.6 131.2,277.6 127.0,274.6 C122.9,271.6 118.7,265.0 114.6,259.6 C110.4,254.2 108.8,246.8 102.1,242.2 C95.5,237.6 83.4,235.1 74.7,232.2 C66.0,229.3 58.1,227.2 49.8,224.8 C41.5,222.3 29.9,222.3 24.9,217.8 C19.9,213.2 20.8,207.4 19.9,197.4 C19.1,187.3 5.4,164.2 19.9,157.5Z" fill="#848484" />
<path d="M107.1,157.5 C112.9,154.6 151.5,155.0 159.4,157.5 C167.3,160.0 157.7,168.7 154.4,172.5 C151.1,176.2 144.5,179.5 139.5,179.9 C134.5,180.3 129.9,178.7 124.5,174.9 C119.1,171.2 101.3,160.4 107.1,157.5Z" fill="#8e8e8e" />
<path d="M24.9,217.8 C30.7,215.0 41.5,222.8 49.8,225.3 C58.1,227.7 66.2,229.7 74.7,232.7 C83.2,235.8 94.2,238.1 100.9,243.4 C107.5,248.8 109.8,256.9 114.6,264.6 C119.3,272.3 126.6,282.0 129.5,289.5 C132.4,297.0 132.8,302.8 132.0,309.4 C131.2,316.1 127.0,319.8 124.5,329.4 C122.0,338.9 124.1,360.5 117.1,366.7 C110.0,373.0 87.4,372.1 82.2,366.7 C77.0,361.3 88.0,343.9 85.9,334.3 C83.9,324.8 75.8,316.9 69.7,309.4 C63.7,302.0 57.3,295.3 49.8,289.5 C42.3,283.7 33.6,279.6 24.9,274.6 C16.2,269.6 2.1,265.0 -2.5,259.6 C-7.1,254.2 -5.4,245.1 -2.5,242.2 C0.4,239.3 10.4,246.3 14.9,242.2 C19.5,238.1 19.1,220.6 24.9,217.8Z" fill="#787878" />
<path d="M74.7,299.5 C77.6,292.8 95.5,295.3 104.6,294.5 C113.7,293.7 125.0,292.0 129.5,294.5 C134.0,297.0 132.3,303.6 131.5,309.4 C130.7,315.3 126.9,319.8 124.5,329.4 C122.2,338.9 124.0,360.5 117.6,366.7 C111.1,373.0 91.0,372.1 85.9,366.7 C80.9,361.3 89.0,345.6 87.2,334.3 C85.3,323.1 71.8,306.1 74.7,299.5Z" fill="#9c9c9c" filter="url(#bl3)" opacity="0.9"/>
<path d="M-2.5,277.1 C2.1,262.5 16.2,275.8 24.9,279.6 C33.6,283.3 41.9,292.0 49.8,299.5 C57.7,306.9 66.4,316.1 72.2,324.4 C78.0,332.7 82.2,342.2 84.7,349.3 C87.2,356.3 101.7,363.8 87.2,366.7 C72.6,369.6 12.5,381.7 -2.5,366.7 C-17.4,351.8 -7.1,291.6 -2.5,277.1Z" fill="#858585" />
<path d="M-2.5,299.5 C1.2,289.9 12.0,304.5 19.9,309.4 C27.8,314.4 38.2,322.7 44.8,329.4 C51.5,336.0 56.9,343.1 59.8,349.3 C62.7,355.5 72.6,363.8 62.3,366.7 C51.9,369.6 8.3,377.9 -2.5,366.7 C-13.3,355.5 -6.2,309.0 -2.5,299.5Z" fill="#8c8c8c" />
<path d="M159.4,157.5 C168.9,154.2 198.8,122.6 206.7,157.5 C214.6,192.4 221.7,331.9 206.7,366.7 C191.8,401.6 131.2,372.1 117.1,366.7 C102.9,361.3 120.0,342.2 122.0,334.3 C124.1,326.5 127.8,325.2 129.5,319.4 C131.3,313.6 132.8,305.9 132.5,299.5 C132.2,293.0 126.4,284.3 127.5,280.8 C128.7,277.3 134.2,278.3 139.5,278.3 C144.8,278.3 154.0,281.8 159.4,280.8 C164.8,279.8 171.4,276.1 171.9,272.6 C172.3,269.0 164.8,264.3 161.9,259.6 C159.0,255.0 156.8,250.9 154.4,244.7 C152.0,238.5 149.9,230.2 147.4,222.3 C145.0,214.4 142.1,203.8 140.0,197.4 C137.8,190.9 132.9,187.0 134.5,183.7 C136.1,180.3 145.3,181.8 149.4,177.4 C153.6,173.1 149.9,160.8 159.4,157.5Z" fill="#474747" />
<path d="M-2.5,179.9 C0.2,170.3 9.6,179.4 13.7,184.4 C17.8,189.4 20.0,201.4 21.9,209.8 C23.9,218.2 26.1,229.0 25.4,234.7 C24.7,240.4 21.3,244.0 17.9,244.2 C14.5,244.4 8.4,236.3 5.0,236.0 C1.6,235.6 -1.2,251.5 -2.5,242.2 C-3.7,232.9 -5.2,189.6 -2.5,179.9Z" fill="#cacaca" />
<path d="M24.9,217.8 C29.1,219.0 41.5,222.8 49.8,225.3 C58.1,227.7 66.2,229.7 74.7,232.7 C83.2,235.8 94.2,238.1 100.9,243.4 C107.5,248.8 110.4,259.0 114.6,264.6 C118.7,270.2 123.9,275.0 125.8,277.1" fill="none" stroke="#4e4e4e" stroke-width="1.6" stroke-linecap="round" opacity="0.8"/>
<path d="M-2.5,269.6 C2.9,270.8 20.3,272.1 29.9,277.1 C39.4,282.0 47.3,292.0 54.8,299.5 C62.3,306.9 69.5,314.4 74.7,321.9 C79.9,329.4 84.1,340.6 85.9,344.3" fill="none" stroke="#555" stroke-width="2.2" stroke-linecap="round" opacity="0.7"/>
<path d="M109.6,258.4 C112.9,260.2 122.9,266.8 129.5,269.6 C136.2,272.4 143.0,274.6 149.4,275.1 C155.9,275.6 165.0,273.0 168.1,272.6" fill="none" stroke="#b4b4b4" stroke-width="3.5" stroke-linecap="round" opacity="0.8"/>
<path d="M58.5,285.8 C61.2,288.7 69.9,295.5 74.7,303.2 C79.5,310.9 83.2,321.3 87.2,331.9 C91.1,342.4 96.5,360.9 98.4,366.7" fill="none" stroke="#c0c0c0" stroke-width="8" stroke-linecap="round" opacity="0.8" filter="url(#bl2)"/>
<path d="M124.5,279.6 C125.7,282.9 130.7,292.8 131.5,299.5 C132.3,306.1 131.1,313.6 129.5,319.4 C127.9,325.2 123.9,327.2 122.0,334.3 C120.2,341.4 118.9,357.4 118.3,362.0" fill="none" stroke="#a8a8a8" stroke-width="2.2" stroke-linecap="round" opacity="0.8"/>
<path d="M139.5,197.4 C141.1,202.8 145.9,220.0 149.4,229.7 C153.0,239.5 158.8,251.5 160.6,255.9" fill="none" stroke="#9a9a9a" stroke-width="2" stroke-linecap="round" opacity="0.7"/>
<path d="M-2.5,299.5 C1.2,301.1 12.0,304.5 19.9,309.4 C27.8,314.4 38.2,322.7 44.8,329.4 C51.5,336.0 57.3,346.0 59.8,349.3" fill="none" stroke="#a0a0a0" stroke-width="1.6" stroke-linecap="round" opacity="0.7"/>
</g>
<rect x="10" y="350.6" width="49" height="1.6" fill="#e8e8e8"/>
<text x="13.5" y="345.0" font-size="11.6" fill="#f2f2f2" text-anchor="start" textLength="40.5" lengthAdjust="spacingAndGlyphs">500 nm</text>
<text x="5.0" y="181.5" font-size="11.8" fill="#111" text-anchor="start" textLength="13.5" lengthAdjust="spacingAndGlyphs">(b)</text>
</g>
<g clip-path="url(#cp_c)"><g filter="url(#gr_c)">
<rect x="198" y="155" width="215" height="215" fill="#bdbdbd"/>
<path d="M199.5,157.5 C212.4,153.2 264.3,154.6 276.7,157.5 C289.2,160.4 276.7,170.6 274.2,174.9 C271.7,179.3 266.3,182.5 261.8,183.7 C257.2,184.8 251.8,182.0 246.8,181.9 C241.9,181.8 236.9,183.0 231.9,182.9 C226.9,182.8 222.3,181.0 216.9,181.2 C211.5,181.3 202.4,187.6 199.5,183.7 C196.6,179.7 186.6,161.9 199.5,157.5Z" fill="#a9a9a9" />
<path d="M284.2,157.5 C304.5,155.0 388.0,137.2 408.7,157.5 C429.5,177.8 411.6,260.7 408.7,279.6 C405.8,298.4 398.8,274.6 391.3,270.8 C383.8,267.1 372.2,264.0 363.9,257.1 C355.6,250.3 348.9,238.9 341.5,229.7 C334.0,220.6 325.7,209.4 319.1,202.3 C312.4,195.3 307.0,192.4 301.6,187.4 C296.2,182.4 289.6,177.4 286.7,172.5 C283.8,167.5 263.9,160.0 284.2,157.5Z" fill="#a2a2a2" />
<path d="M314.1,157.5 C314.1,153.8 325.7,149.2 341.5,157.5 C357.3,165.8 397.5,194.5 408.7,207.3 C419.9,220.2 414.1,234.7 408.7,234.7 C403.3,234.7 387.6,216.5 376.3,207.3 C365.1,198.2 351.9,188.2 341.5,179.9 C331.1,171.6 314.1,161.2 314.1,157.5Z" fill="#7e7e7e" />
<path d="M341.5,157.5 C336.1,149.2 365.1,153.8 376.3,157.5 C387.6,161.2 403.3,171.6 408.7,179.9 C414.1,188.2 419.9,211.1 408.7,207.3 C397.5,203.6 346.9,165.8 341.5,157.5Z" fill="#999999" />
<path d="M376.3,157.5 C376.3,153.8 403.3,153.8 408.7,157.5 C414.1,161.2 414.1,179.9 408.7,179.9 C403.3,179.9 376.3,161.2 376.3,157.5Z" fill="#b2b2b2" />
<path d="M316.1,200.3 C315.4,196.8 326.4,200.8 332.8,204.8 C339.2,208.9 347.5,217.7 354.4,224.8 C361.4,231.8 365.3,240.3 374.4,247.2 C383.4,254.0 403.0,259.6 408.7,265.9 C414.5,272.1 412.0,283.6 408.7,284.5 C405.4,285.5 396.3,275.9 388.8,271.6 C381.3,267.2 370.1,262.7 363.9,258.4 C357.7,254.1 356.0,251.3 351.4,245.9 C346.9,240.5 342.4,233.6 336.5,226.0 C330.6,218.4 316.7,203.9 316.1,200.3Z" fill="#d8d8d8" />
<path d="M276.7,168.7 C280.7,166.6 281.3,168.9 285.4,172.5 C289.6,176.0 294.8,182.8 301.6,189.9 C308.5,196.9 318.2,205.5 326.5,214.8 C334.8,224.1 345.2,238.7 351.4,245.9 C357.7,253.2 357.7,254.1 363.9,258.4 C370.1,262.7 381.3,267.2 388.8,271.6 C396.3,275.9 405.4,268.7 408.7,284.5 C412.0,300.4 432.6,353.0 408.7,366.7 C384.9,380.4 290.5,372.1 265.5,366.7 C240.5,361.3 260.2,343.9 258.8,334.3 C257.3,324.8 258.0,317.7 256.8,309.4 C255.6,301.1 253.1,292.8 251.8,284.5 C250.5,276.2 248.8,267.9 248.8,259.6 C248.8,251.3 250.8,243.0 251.8,234.7 C252.8,226.4 253.1,218.1 254.8,209.8 C256.5,201.5 258.1,191.8 261.8,184.9 C265.4,178.1 272.8,170.8 276.7,168.7Z" fill="#626262" />
<path d="M284.2,259.6 C296.2,253.4 330.7,248.0 351.4,252.2 C372.2,256.3 399.2,265.4 408.7,284.5 C418.3,303.6 425.7,353.0 408.7,366.7 C391.7,380.4 327.4,374.6 306.6,366.7 C285.9,358.8 288.8,332.3 284.2,319.4 C279.6,306.5 279.2,299.5 279.2,289.5 C279.2,279.6 272.2,265.9 284.2,259.6Z" fill="#6e6e6e" />
<path d="M258.0,277.1 C260.9,272.9 269.9,281.2 274.2,284.5 C278.6,287.9 283.6,291.2 284.2,297.0 C284.8,302.8 281.7,312.8 278.0,319.4 C274.2,326.0 265.2,338.5 261.8,336.8 C258.3,335.2 257.9,319.4 257.3,309.4 C256.7,299.5 255.2,281.2 258.0,277.1Z" fill="#545454" />
<path d="M264.3,351.8 C267.6,348.9 277.1,348.0 284.2,349.3 C291.2,350.5 300.8,356.3 306.6,359.3 C312.4,362.2 326.1,365.5 319.1,366.7 C312.0,368.0 273.4,369.2 264.3,366.7 C255.1,364.2 260.9,354.7 264.3,351.8Z" fill="#333333" />
<ellipse cx="393.8" cy="340.6" rx="25" ry="26" fill="#454545"/>
<path d="M286.7,256.6 C289.2,256.4 297.5,254.4 301.6,255.1 C305.8,255.8 307.4,260.2 311.6,260.9 C315.7,261.5 321.6,260.2 326.5,259.1 C331.5,258.1 336.9,256.3 341.5,254.6 C346.0,253.0 351.9,250.1 353.9,249.2" fill="none" stroke="#b8b8b8" stroke-width="1.6" stroke-linecap="round" />
<path d="M250.8,259.6 C251.1,255.5 252.0,243.0 252.8,234.7 C253.6,226.4 254.1,218.1 255.8,209.8 C257.5,201.5 259.3,191.5 262.8,184.9 C266.3,178.3 274.4,172.9 276.7,170.5" fill="none" stroke="#929292" stroke-width="4" stroke-linecap="round" opacity="0.75" filter="url(#bl1)"/>
<path d="M251.8,284.5 C252.7,288.7 256.0,301.1 257.3,309.4 C258.6,317.7 259.4,330.2 259.8,334.3" fill="none" stroke="#8a8a8a" stroke-width="3" stroke-linecap="round" opacity="0.6" filter="url(#bl1)"/>
</g>
<rect x="237.2" y="213.3" width="48" height="47.8" fill="none" stroke="#e8893c" stroke-width="2" stroke-dasharray="5.5 1.5"/>
<rect x="213" y="351.3" width="59.7" height="1.6" fill="#f0f0f0"/>
<text x="223.0" y="346.0" font-size="11.6" fill="#f4f4f4" text-anchor="start" textLength="40.0" lengthAdjust="spacingAndGlyphs">500 nm</text>
<text x="210.5" y="181.5" font-size="11.8" fill="#111" text-anchor="start" textLength="12.0" lengthAdjust="spacingAndGlyphs">(c)</text>
</g>
<defs><linearGradient id="dgl" x1="0" y1="163" x2="0" y2="360" gradientUnits="userSpaceOnUse"><stop offset="0" stop-color="#cacaca"/><stop offset="1" stop-color="#bebebe"/></linearGradient><linearGradient id="dg" x1="407" y1="0" x2="605" y2="0" gradientUnits="userSpaceOnUse"><stop offset="0" stop-color="#c6c6c6"/><stop offset="0.30" stop-color="#c0c0c0"/><stop offset="0.32" stop-color="#8c8c8c"/><stop offset="0.5" stop-color="#6a6a6a"/><stop offset="0.62" stop-color="#444"/><stop offset="1" stop-color="#343434"/></linearGradient></defs>
<g clip-path="url(#cp_d)"><g filter="url(#gr_d)">
<rect x="400" y="155" width="215" height="215" fill="#c5c5c5"/>
<path d="M479.5,155.0 C455.7,158.3 478.5,169.6 477.5,175.1 C476.4,180.5 475.4,183.9 473.2,187.7 C471.0,191.4 466.2,194.0 464.4,197.7 C462.6,201.5 461.9,206.1 462.4,210.3 C462.8,214.5 464.9,219.5 466.9,222.9 C468.9,226.2 473.0,227.1 474.4,230.4 C475.9,233.8 476.3,239.2 475.7,243.0 C475.1,246.8 472.1,250.1 470.7,253.1 C469.2,256.0 467.9,257.7 466.9,260.6 C465.8,263.6 465.2,267.3 464.4,270.7 C463.5,274.0 461.9,277.4 461.9,280.8 C461.9,284.1 463.5,287.5 464.4,290.8 C465.2,294.2 466.9,297.5 466.9,300.9 C466.9,304.2 465.4,307.2 464.4,310.9 C463.3,314.7 461.0,319.3 460.6,323.5 C460.2,327.7 461.4,331.9 461.9,336.1 C462.3,340.3 462.5,343.2 463.1,348.7 C463.7,354.1 439.4,365.5 465.6,368.8 C491.8,372.2 594.6,404.4 620.4,368.8 C646.1,333.2 643.8,190.6 620.4,155.0 C596.9,119.3 503.3,151.6 479.5,155.0Z" fill="#979797"/>
<path d="M505.9,155.0 C487.1,164.2 507.6,192.7 507.6,210.3 C507.6,227.9 507.2,243.9 505.9,260.6 C504.5,277.4 501.4,292.9 499.6,310.9 C497.8,329.0 474.9,359.2 495.1,368.8 C515.2,378.4 599.5,404.4 620.4,368.8 C641.2,333.2 639.4,190.6 620.4,155.0 C601.3,119.3 524.7,145.7 505.9,155.0Z" fill="#686868" filter="url(#bl3)"/>
<path d="M523.5,155.0 C507.8,164.2 526.0,192.7 526.0,210.3 C526.0,227.9 525.0,243.9 523.5,260.6 C521.9,277.4 518.7,292.9 516.7,310.9 C514.7,329.0 494.4,359.2 511.7,368.8 C528.9,378.4 602.2,404.4 620.4,368.8 C638.5,333.2 636.5,190.6 620.4,155.0 C604.2,119.3 539.2,145.7 523.5,155.0Z" fill="#404040" filter="url(#bl3)"/>
<path d="M544.9,155.0 C532.3,172.6 546.6,225.0 544.9,260.6 C543.2,296.3 522.2,350.8 534.8,368.8 C547.4,386.8 606.1,404.4 620.4,368.8 C634.6,333.2 632.9,190.6 620.4,155.0 C607.8,119.3 557.5,137.4 544.9,155.0Z" fill="#303030" filter="url(#bl6)"/>
</g><g>
<path d="M479.5,155.0 C493.0,158.3 478.5,169.6 477.5,175.1 C476.4,180.5 475.4,183.9 473.2,187.7 C471.0,191.4 466.2,194.0 464.4,197.7 C462.6,201.5 461.9,206.1 462.4,210.3 C462.8,214.5 464.9,219.5 466.9,222.9 C468.9,226.2 473.0,227.1 474.4,230.4 C475.9,233.8 476.3,239.2 475.7,243.0 C475.1,246.8 472.1,250.1 470.7,253.1 C469.2,256.0 467.9,257.7 466.9,260.6 C465.8,263.6 465.2,267.3 464.4,270.7 C463.5,274.0 461.9,277.4 461.9,280.8 C461.9,284.1 463.5,287.5 464.4,290.8 C465.2,294.2 466.9,297.5 466.9,300.9 C466.9,304.2 465.4,307.2 464.4,310.9 C463.3,314.7 461.0,319.3 460.6,323.5 C460.2,327.7 461.4,331.9 461.9,336.1 C462.3,340.3 462.5,343.2 463.1,348.7 C463.7,354.1 476.7,365.5 465.6,368.8 C454.5,372.2 408.0,404.4 396.5,368.8 C384.9,333.2 382.6,190.6 396.5,155.0 C410.3,119.3 466.0,151.6 479.5,155.0Z" fill="url(#dgl)" filter="url(#bl05)"/>
</g>
<rect x="422" y="352" width="23" height="1.5" fill="#f0f0f0"/>
<text x="416.7" y="345.5" font-size="11.6" fill="#f4f4f4" text-anchor="start" textLength="34.0" lengthAdjust="spacingAndGlyphs">50 nm</text>
<text x="414.5" y="181.5" font-size="11.8" fill="#111" text-anchor="start" textLength="14.0" lengthAdjust="spacingAndGlyphs">(d)</text>
</g>
<rect x="405.8" y="162" width="200.2" height="198.8" fill="none" stroke="#e0853e" stroke-width="2.6" stroke-dasharray="6 1.6"/>
<g clip-path="url(#cp_e)">
<rect x="610.5" y="162.7" width="200.5" height="198.3" fill="#050506"/>
<circle cx="712.5" cy="260.6" r="62" fill="url(#halo)"/>
<path d="M612,256.4 L700,257.2 C703,255 706.5,253.4 712,253.3 C717.5,253.4 720.5,255 723.5,257 L735.5,260.5 L723.5,264 C720.5,266 717.5,267.5 712,267.6 C706.5,267.5 703,266 700,263.9 L612,264.8 Z" fill="#020203" filter="url(#bl05)"/>
<rect x="627" y="350.6" width="44.6" height="1.5" fill="#ececec"/>
<text x="631.5" y="345.0" font-size="11.6" fill="#f4f4f4" text-anchor="start" textLength="27.0" lengthAdjust="spacingAndGlyphs">5 nm</text>
<text x="659.0" y="340.0" font-size="7" fill="#f4f4f4" text-anchor="start" textLength="7.5" lengthAdjust="spacingAndGlyphs">−1</text>
<text x="718.0" y="184.0" font-size="11.8" fill="#f4f4f4" text-anchor="start" textLength="63.0" lengthAdjust="spacingAndGlyphs">Amorphous</text>
<text x="617.5" y="182.0" font-size="11.8" fill="#f4f4f4" text-anchor="start" textLength="13.5" lengthAdjust="spacingAndGlyphs">(e)</text>
</g>
<g clip-path="url(#cp_f)"><g filter="url(#gr_f)">
<rect x="-5" y="360" width="215" height="215" fill="#020202"/>
<path d="M92.0,360.0 C70.8,364.2 90.0,378.3 88.0,385.0 C86.0,391.7 82.3,395.0 80.0,400.0 C77.7,405.0 75.7,409.7 74.0,415.0 C72.3,420.3 71.3,426.2 70.0,432.0 C68.7,437.8 65.7,444.0 66.0,450.0 C66.3,456.0 72.0,462.2 72.0,468.0 C72.0,473.8 68.0,478.8 66.0,485.0 C64.0,491.2 61.3,498.3 60.0,505.0 C58.7,511.7 58.7,518.3 58.0,525.0 C57.3,531.7 56.7,539.2 56.0,545.0 C55.3,550.8 54.7,555.0 54.0,560.0 C53.3,565.0 25.2,572.5 52.0,575.0 C78.8,577.5 187.8,610.8 215.0,575.0 C242.2,539.2 235.5,395.8 215.0,360.0 C194.5,324.2 113.2,355.8 92.0,360.0Z" fill="#8c8c8c" filter="url(#bl2)"/>
<path d="M104.0,360.0 C86.2,363.3 107.7,373.3 108.0,380.0 C108.3,386.7 107.3,393.3 106.0,400.0 C104.7,406.7 102.3,413.3 100.0,420.0 C97.7,426.7 94.3,433.3 92.0,440.0 C89.7,446.7 87.3,453.3 86.0,460.0 C84.7,466.7 85.3,473.3 84.0,480.0 C82.7,486.7 80.0,493.3 78.0,500.0 C76.0,506.7 74.0,513.3 72.0,520.0 C70.0,526.7 67.7,533.3 66.0,540.0 C64.3,546.7 63.0,554.2 62.0,560.0 C61.0,565.8 34.5,572.5 60.0,575.0 C85.5,577.5 189.2,610.8 215.0,575.0 C240.8,539.2 233.5,395.8 215.0,360.0 C196.5,324.2 121.8,356.7 104.0,360.0Z" fill="#dadada" filter="url(#bl1)"/>
<path d="M175,527 C185,524 195,524 206,521 L206,530 C195,531 185,532 176,531 Z" fill="#555" filter="url(#bl1)"/>
</g>
<rect x="95.1" y="466.5" width="105.9" height="76.89999999999998" fill="none" stroke="#f3d05e" stroke-width="0.9"/>
<rect x="95.1" y="534.9" width="15.1" height="8.5" fill="#f7d661" stroke="#3a3420" stroke-width="0.6"/>
<rect x="110.2" y="504.9" width="15.1" height="38.4" fill="#f7d661" stroke="#3a3420" stroke-width="0.6"/>
<rect x="125.4" y="509.2" width="15.1" height="34.2" fill="#f7d661" stroke="#3a3420" stroke-width="0.6"/>
<rect x="140.5" y="492.1" width="15.1" height="51.3" fill="#f7d661" stroke="#3a3420" stroke-width="0.6"/>
<rect x="155.6" y="526.3" width="15.1" height="17.1" fill="#f7d661" stroke="#3a3420" stroke-width="0.6"/>
<rect x="170.7" y="526.3" width="15.1" height="17.1" fill="#f7d661" stroke="#3a3420" stroke-width="0.6"/>
<rect x="185.9" y="539.1" width="15.1" height="4.3" fill="#f7d661" stroke="#3a3420" stroke-width="0.6"/>
<path d="M102.7,534.9 C105.2,530.2 112.8,512.8 117.8,507.1 C122.8,501.4 127.9,503.2 132.9,500.7 C138.0,498.2 143.0,490.0 148.1,492.1 C153.1,494.3 158.1,507.1 163.2,513.5 C168.2,519.9 173.3,526.0 178.3,530.6 C183.4,535.1 190.9,539.1 193.4,540.8" fill="none" stroke="#f3d05e" stroke-width="0.8"/>
<text x="91.0" y="470.7" font-size="11.4" fill="#f3d05e" text-anchor="end" textLength="12.3" lengthAdjust="spacingAndGlyphs" stroke="#f3d05e" stroke-width="0.35">18</text>
<text x="91.0" y="483.5" font-size="11.4" fill="#f3d05e" text-anchor="end" textLength="12.3" lengthAdjust="spacingAndGlyphs" stroke="#f3d05e" stroke-width="0.35">15</text>
<text x="91.0" y="496.3" font-size="11.4" fill="#f3d05e" text-anchor="end" textLength="12.3" lengthAdjust="spacingAndGlyphs" stroke="#f3d05e" stroke-width="0.35">12</text>
<text x="91.0" y="509.1" font-size="11.4" fill="#f3d05e" text-anchor="end" textLength="6.1" lengthAdjust="spacingAndGlyphs" stroke="#f3d05e" stroke-width="0.35">9</text>
<text x="91.0" y="522.0" font-size="11.4" fill="#f3d05e" text-anchor="end" textLength="6.1" lengthAdjust="spacingAndGlyphs" stroke="#f3d05e" stroke-width="0.35">6</text>
<text x="91.0" y="534.8" font-size="11.4" fill="#f3d05e" text-anchor="end" textLength="6.1" lengthAdjust="spacingAndGlyphs" stroke="#f3d05e" stroke-width="0.35">3</text>
<text x="91.0" y="547.6" font-size="11.4" fill="#f3d05e" text-anchor="end" textLength="6.1" lengthAdjust="spacingAndGlyphs" stroke="#f3d05e" stroke-width="0.35">0</text>
<text x="95.1" y="555.6" font-size="11.4" fill="#f3d05e" text-anchor="middle" textLength="6.0" lengthAdjust="spacingAndGlyphs" opacity="0.75">3</text>
<text x="110.2" y="555.6" font-size="11.4" fill="#f3d05e" text-anchor="middle" textLength="6.0" lengthAdjust="spacingAndGlyphs" opacity="0.75">4</text>
<text x="125.4" y="555.6" font-size="11.4" fill="#f3d05e" text-anchor="middle" textLength="6.0" lengthAdjust="spacingAndGlyphs" opacity="0.75">5</text>
<text x="140.5" y="555.6" font-size="11.4" fill="#f3d05e" text-anchor="middle" textLength="6.0" lengthAdjust="spacingAndGlyphs" opacity="0.75">6</text>
<text x="155.6" y="555.6" font-size="11.4" fill="#f3d05e" text-anchor="middle" textLength="6.0" lengthAdjust="spacingAndGlyphs" opacity="0.75">7</text>
<text x="170.7" y="555.6" font-size="11.4" fill="#f3d05e" text-anchor="middle" textLength="6.0" lengthAdjust="spacingAndGlyphs" opacity="0.75">8</text>
<text x="185.9" y="555.6" font-size="11.4" fill="#f3d05e" text-anchor="middle" textLength="6.0" lengthAdjust="spacingAndGlyphs" opacity="0.75">9</text>
<text x="201.0" y="555.6" font-size="11.4" fill="#f3d05e" text-anchor="middle" textLength="12.0" lengthAdjust="spacingAndGlyphs" opacity="0.75">10</text>
<text x="147.0" y="566.9" font-size="11.8" fill="#f3d05e" text-anchor="middle" textLength="79.5" lengthAdjust="spacingAndGlyphs" opacity="0.8">Diameter (nm)</text>
<text stroke="#f3d05e" stroke-width="0.35" transform="translate(75.3,506.0) rotate(-90)" font-size="11.8" fill="#f3d05e" text-anchor="middle" textLength="37.0" lengthAdjust="spacingAndGlyphs">Counts</text>
<text x="148.8" y="477.6" font-size="7.6" fill="#f3d05e" text-anchor="middle" textLength="98.0" lengthAdjust="spacingAndGlyphs" opacity="0.8">Average diameter = 6.1 nm</text>
<rect x="17.6" y="560.6" width="34.5" height="1.5" fill="#f0f0f0"/>
<text x="15.0" y="555.5" font-size="11.6" fill="#f4f4f4" text-anchor="start" textLength="39.5" lengthAdjust="spacingAndGlyphs">100 nm</text>
<text x="146.5" y="387.0" font-size="11.8" fill="#111" text-anchor="start" textLength="37.5" lengthAdjust="spacingAndGlyphs">HAADF</text>
<text x="5.4" y="387.0" font-size="11.8" fill="#f4f4f4" text-anchor="start" textLength="11.0" lengthAdjust="spacingAndGlyphs">(f)</text>
</g>
<g clip-path="url(#cp_si)">
<g filter="url(#eds1)">
<rect x="202.3" y="359.3" width="116.4" height="116.4" fill="#030303"/>
<path d="M255.5,359.3 L249.2,407.5 L248.0,437.6 L243.4,475.7 L318.7,475.7 L318.7,359.3Z" fill="#0f3572"/>
</g>
<text x="296.3" y="387.0" font-size="12.2" fill="#f4f4f4" text-anchor="start" textLength="9.0" lengthAdjust="spacingAndGlyphs">Si</text>
</g>
<g clip-path="url(#cp_o)">
<g filter="url(#eds2)">
<rect x="305.4" y="359.3" width="117" height="116.4" fill="#08040c"/>
<path d="M357.8,359.3 L351.5,407.5 L350.4,437.6 L345.7,475.7 L422.4,475.7 L422.4,359.3Z" fill="#4c165a"/>
</g>
<text x="400.0" y="387.0" font-size="12.2" fill="#f4f4f4" text-anchor="start" textLength="8.2" lengthAdjust="spacingAndGlyphs">O</text>
</g>
<g clip-path="url(#cp_n)">
<g filter="url(#eds3)">
<rect x="202.3" y="462" width="116.4" height="116.8" fill="#030303"/>
<path d="M256.5,462.0 L249.4,510.3 L247.6,540.6 L242.4,578.8 L318.7,578.8 L318.7,462.0Z" fill="#217a24"/>
</g>
<text x="297.0" y="490.0" font-size="12.2" fill="#f4f4f4" text-anchor="start" textLength="8.0" lengthAdjust="spacingAndGlyphs">N</text>
</g>
<g clip-path="url(#cp_cc)">
<g filter="url(#eds4)">
<rect x="305.4" y="462" width="117" height="116.8" fill="#070303"/>
<path d="M355.8,462.0 L349.5,510.3 L348.3,540.6 L343.7,578.8 L422.4,578.8 L422.4,462.0Z" fill="#2c0909"/>
</g>
<text x="400.0" y="490.0" font-size="12.2" fill="#f4f4f4" text-anchor="start" textLength="7.3" lengthAdjust="spacingAndGlyphs">C</text>
</g>
<defs><linearGradient id="ggrad" x1="0" y1="0" x2="0" y2="1"><stop offset="0" stop-color="#e4e6f8"/><stop offset="0.45" stop-color="#c3cbf2"/><stop offset="1" stop-color="#8ea3e6"/></linearGradient>
<radialGradient id="mred" cx="0.38" cy="0.32" r="0.7"><stop offset="0" stop-color="#ffd0d0"/><stop offset="0.25" stop-color="#f46a6e"/><stop offset="1" stop-color="#d43a44"/></radialGradient>
<radialGradient id="mblu" cx="0.38" cy="0.32" r="0.7"><stop offset="0" stop-color="#dfe4ff"/><stop offset="0.25" stop-color="#6f86f0"/><stop offset="1" stop-color="#4058d0"/></radialGradient>
</defs>
<rect x="468.7" y="381.0" width="340.8" height="157.2" fill="url(#ggrad)" stroke="#3a3f55" stroke-width="1"/>
<line x1="491.5" y1="538.2" x2="491.5" y2="534.2" stroke="#3a3f55"/>
<text x="491.5" y="553.8" font-size="12" fill="#1a1a1a" text-anchor="middle" textLength="6.5" lengthAdjust="spacingAndGlyphs">0</text>
<line x1="582.7" y1="538.2" x2="582.7" y2="534.2" stroke="#3a3f55"/>
<text x="582.7" y="553.8" font-size="12" fill="#1a1a1a" text-anchor="middle" textLength="12.9" lengthAdjust="spacingAndGlyphs">20</text>
<line x1="673.9" y1="538.2" x2="673.9" y2="534.2" stroke="#3a3f55"/>
<text x="673.9" y="553.8" font-size="12" fill="#1a1a1a" text-anchor="middle" textLength="12.9" lengthAdjust="spacingAndGlyphs">40</text>
<line x1="765.1" y1="538.2" x2="765.1" y2="534.2" stroke="#3a3f55"/>
<text x="765.1" y="553.8" font-size="12" fill="#1a1a1a" text-anchor="middle" textLength="12.9" lengthAdjust="spacingAndGlyphs">60</text>
<line x1="537.1" y1="538.2" x2="537.1" y2="536.0" stroke="#3a3f55"/>
<line x1="628.3" y1="538.2" x2="628.3" y2="536.0" stroke="#3a3f55"/>
<line x1="719.5" y1="538.2" x2="719.5" y2="536.0" stroke="#3a3f55"/>
<line x1="468.7" y1="520.0" x2="472.7" y2="520.0" stroke="#3a3f55"/>
<text x="463.2" y="524.4" font-size="12" fill="#1a1a1a" text-anchor="end" textLength="17.5" lengthAdjust="spacingAndGlyphs">0.0</text>
<line x1="468.7" y1="485.2" x2="472.7" y2="485.2" stroke="#3a3f55"/>
<text x="463.2" y="489.6" font-size="12" fill="#1a1a1a" text-anchor="end" textLength="17.5" lengthAdjust="spacingAndGlyphs">0.1</text>
<line x1="468.7" y1="450.5" x2="472.7" y2="450.5" stroke="#3a3f55"/>
<text x="463.2" y="454.9" font-size="12" fill="#1a1a1a" text-anchor="end" textLength="17.5" lengthAdjust="spacingAndGlyphs">0.2</text>
<line x1="468.7" y1="415.8" x2="472.7" y2="415.8" stroke="#3a3f55"/>
<text x="463.2" y="420.1" font-size="12" fill="#1a1a1a" text-anchor="end" textLength="17.5" lengthAdjust="spacingAndGlyphs">0.3</text>
<line x1="468.7" y1="381.0" x2="472.7" y2="381.0" stroke="#3a3f55"/>
<text x="463.2" y="385.4" font-size="12" fill="#1a1a1a" text-anchor="end" textLength="17.5" lengthAdjust="spacingAndGlyphs">0.4</text>
<line x1="468.7" y1="502.6" x2="470.9" y2="502.6" stroke="#3a3f55"/>
<line x1="468.7" y1="467.9" x2="470.9" y2="467.9" stroke="#3a3f55"/>
<line x1="468.7" y1="433.1" x2="470.9" y2="433.1" stroke="#3a3f55"/>
<line x1="468.7" y1="398.4" x2="470.9" y2="398.4" stroke="#3a3f55"/>
<line x1="468.7" y1="537.4" x2="470.9" y2="537.4" stroke="#3a3f55"/>
<path d="M499.1,505.8 L499.9,502.6 L500.8,499.8 L501.8,497.1 L502.9,494.3 L504.7,490.8 L506.4,470.0 L507.7,394.2 L509.3,445.6 L510.9,463.4 L512.9,466.1 L514.8,469.3 L516.6,474.5 L519.3,480.4 L522.1,485.2 L526.2,487.0 L530.7,497.8 L538.0,507.8 L546.7,514.8 L560.8,517.9 L593.2,519.0 L650.2,519.3 L785.2,520.0" fill="none" stroke="#e8565c" stroke-width="1.1"/>
<circle cx="499.1" cy="505.8" r="3.1" fill="url(#mred)"/>
<circle cx="499.9" cy="502.6" r="3.1" fill="url(#mred)"/>
<circle cx="500.8" cy="499.8" r="3.1" fill="url(#mred)"/>
<circle cx="501.8" cy="497.1" r="3.1" fill="url(#mred)"/>
<circle cx="502.9" cy="494.3" r="3.1" fill="url(#mred)"/>
<circle cx="504.7" cy="490.8" r="3.1" fill="url(#mred)"/>
<circle cx="506.4" cy="470.0" r="3.1" fill="url(#mred)"/>
<circle cx="507.7" cy="394.2" r="3.1" fill="url(#mred)"/>
<circle cx="509.3" cy="445.6" r="3.1" fill="url(#mred)"/>
<circle cx="510.9" cy="463.4" r="3.1" fill="url(#mred)"/>
<circle cx="512.9" cy="466.1" r="3.1" fill="url(#mred)"/>
<circle cx="514.8" cy="469.3" r="3.1" fill="url(#mred)"/>
<circle cx="516.6" cy="474.5" r="3.1" fill="url(#mred)"/>
<circle cx="519.3" cy="480.4" r="3.1" fill="url(#mred)"/>
<circle cx="522.1" cy="485.2" r="3.1" fill="url(#mred)"/>
<circle cx="526.2" cy="487.0" r="3.1" fill="url(#mred)"/>
<circle cx="530.7" cy="497.8" r="3.1" fill="url(#mred)"/>
<circle cx="538.0" cy="507.8" r="3.1" fill="url(#mred)"/>
<circle cx="546.7" cy="514.8" r="3.1" fill="url(#mred)"/>
<circle cx="560.8" cy="517.9" r="3.1" fill="url(#mred)"/>
<circle cx="593.2" cy="519.0" r="3.1" fill="url(#mred)"/>
<circle cx="650.2" cy="519.3" r="3.1" fill="url(#mred)"/>
<circle cx="785.2" cy="520.0" r="3.1" fill="url(#mred)"/>
<path d="M499.3,519.3 L500.5,519.3 L501.7,519.3 L502.9,519.3 L504.2,519.3 L505.4,519.3 L506.6,519.3 L507.9,519.3 L509.1,519.3 L510.3,519.3 L511.6,519.3 L512.8,519.3 L514.0,519.3 L515.3,519.3 L516.5,519.3 L517.7,519.3 L519.0,519.3 L520.2,519.3 L521.4,519.3 L522.6,519.3 L526.2,519.3 L530.3,519.3 L533.9,519.3 L538.5,519.7 L548.5,519.7 L561.3,519.7 L582.7,519.7 L622.8,519.7 L713.1,519.7" fill="none" stroke="#5f78e0" stroke-width="1.1"/>
<circle cx="499.3" cy="519.3" r="2.9" fill="url(#mblu)"/>
<circle cx="500.5" cy="519.3" r="2.9" fill="url(#mblu)"/>
<circle cx="501.7" cy="519.3" r="2.9" fill="url(#mblu)"/>
<circle cx="502.9" cy="519.3" r="2.9" fill="url(#mblu)"/>
<circle cx="504.2" cy="519.3" r="2.9" fill="url(#mblu)"/>
<circle cx="505.4" cy="519.3" r="2.9" fill="url(#mblu)"/>
<circle cx="506.6" cy="519.3" r="2.9" fill="url(#mblu)"/>
<circle cx="507.9" cy="519.3" r="2.9" fill="url(#mblu)"/>
<circle cx="509.1" cy="519.3" r="2.9" fill="url(#mblu)"/>
<circle cx="510.3" cy="519.3" r="2.9" fill="url(#mblu)"/>
<circle cx="511.6" cy="519.3" r="2.9" fill="url(#mblu)"/>
<circle cx="512.8" cy="519.3" r="2.9" fill="url(#mblu)"/>
<circle cx="514.0" cy="519.3" r="2.9" fill="url(#mblu)"/>
<circle cx="515.3" cy="519.3" r="2.9" fill="url(#mblu)"/>
<circle cx="516.5" cy="519.3" r="2.9" fill="url(#mblu)"/>
<circle cx="517.7" cy="519.3" r="2.9" fill="url(#mblu)"/>
<circle cx="519.0" cy="519.3" r="2.9" fill="url(#mblu)"/>
<circle cx="520.2" cy="519.3" r="2.9" fill="url(#mblu)"/>
<circle cx="521.4" cy="519.3" r="2.9" fill="url(#mblu)"/>
<circle cx="522.6" cy="519.3" r="2.9" fill="url(#mblu)"/>
<circle cx="526.2" cy="519.3" r="2.9" fill="url(#mblu)"/>
<circle cx="530.3" cy="519.3" r="2.9" fill="url(#mblu)"/>
<circle cx="533.9" cy="519.3" r="2.9" fill="url(#mblu)"/>
<circle cx="538.5" cy="519.7" r="2.9" fill="url(#mblu)"/>
<circle cx="548.5" cy="519.7" r="2.9" fill="url(#mblu)"/>
<circle cx="561.3" cy="519.7" r="2.9" fill="url(#mblu)"/>
<circle cx="582.7" cy="519.7" r="2.9" fill="url(#mblu)"/>
<circle cx="622.8" cy="519.7" r="2.9" fill="url(#mblu)"/>
<circle cx="713.1" cy="519.7" r="2.9" fill="url(#mblu)"/>
<line x1="715.5" y1="399" x2="737" y2="399" stroke="#e8565c" stroke-width="1.1"/><circle cx="726.2" cy="399" r="3.1" fill="url(#mred)"/>
<line x1="715.5" y1="412.6" x2="737" y2="412.6" stroke="#5f78e0" stroke-width="1.1"/><circle cx="726.2" cy="412.6" r="2.9" fill="url(#mblu)"/>
<text x="740.3" y="403.0" font-size="12" fill="#1a1a1a" text-anchor="start" textLength="21.8" lengthAdjust="spacingAndGlyphs">CNS</text>
<text x="740.3" y="416.3" font-size="12" fill="#1a1a1a" text-anchor="start" textLength="15.6" lengthAdjust="spacingAndGlyphs">SiO</text>
<text x="756.2" y="419.0" font-size="7" fill="#1a1a1a" text-anchor="start" textLength="3.6" lengthAdjust="spacingAndGlyphs">2</text>
<text x="760.0" y="416.3" font-size="12" fill="#1a1a1a" text-anchor="start" textLength="36.4" lengthAdjust="spacingAndGlyphs">@CNS</text>
<text x="638.3" y="569.2" font-size="12" fill="#1a1a1a" text-anchor="middle" textLength="105.8" lengthAdjust="spacingAndGlyphs">Pore diameter (nm)</text>
<text x="420.5" y="385.0" font-size="11.6" fill="#1a1a1a" text-anchor="start" textLength="13.5" lengthAdjust="spacingAndGlyphs">(g)</text>
<text transform="translate(436.5,459.6) rotate(-90)" font-size="12" fill="#1a1a1a" text-anchor="middle" textLength="113.0" lengthAdjust="spacingAndGlyphs">dV/dD (cm³·g⁻¹·nm⁻¹)</text>
<defs>
<clipPath id="cliph"><rect x="31.6" y="599" width="221.4" height="177.5"/></clipPath>
<clipPath id="clipi"><rect x="304.3" y="599" width="222" height="177.5"/></clipPath>
<clipPath id="clipj"><rect x="577" y="599" width="223" height="177.5"/></clipPath>
<linearGradient id="gred" x1="0" y1="0" x2="0" y2="1"><stop offset="0" stop-color="#f05a5e"/><stop offset="1" stop-color="#f37c7c"/></linearGradient>
<linearGradient id="gyel" x1="0" y1="0" x2="0" y2="1"><stop offset="0" stop-color="#f8d75f"/><stop offset="1" stop-color="#f9de76"/></linearGradient>
<linearGradient id="gpur" x1="0" y1="0" x2="0" y2="1"><stop offset="0" stop-color="#a57be0"/><stop offset="1" stop-color="#b090e6"/></linearGradient>
<linearGradient id="gora" x1="0" y1="0" x2="0" y2="1"><stop offset="0" stop-color="#e79a58"/><stop offset="1" stop-color="#eeae74"/></linearGradient>
<linearGradient id="gblu" x1="0" y1="0" x2="0" y2="1"><stop offset="0" stop-color="#3f78e0"/><stop offset="1" stop-color="#5a90ea"/></linearGradient>
</defs>
<g clip-path="url(#cliph)">
<path d="M104.1,751.4 L105.1,751.4 L106.1,751.4 L107.1,751.4 L108.1,751.4 L109.1,751.3 L110.1,751.3 L111.1,751.3 L112.1,751.3 L113.1,751.2 L114.1,751.2 L115.1,751.2 L116.1,751.1 L117.1,751.1 L118.1,751.1 L119.2,751.0 L120.2,751.0 L121.2,751.0 L122.2,751.0 L123.2,750.9 L124.2,750.9 L125.2,750.9 L126.2,750.8 L127.2,750.8 L128.2,750.8 L129.2,750.8 L130.2,750.9 L131.2,750.9 L132.2,750.9 L133.2,750.9 L134.2,750.9 L135.3,750.9 L136.3,750.9 L137.3,750.8 L138.3,750.7 L139.3,750.6 L140.3,750.3 L141.3,750.0 L142.3,749.6 L143.3,749.0 L144.3,748.3 L145.3,747.4 L146.3,746.3 L147.3,745.0 L148.3,743.3 L149.3,741.4 L150.4,739.1 L151.4,736.5 L152.4,733.5 L153.4,730.2 L154.4,726.6 L155.4,722.6 L156.4,718.3 L157.4,713.7 L158.4,708.8 L159.4,703.8 L160.4,698.6 L161.4,693.4 L162.4,688.2 L163.4,683.2 L164.4,678.5 L165.4,674.3 L166.5,670.5 L167.5,667.4 L168.5,665.1 L169.5,663.6 L170.5,663.2 L171.5,663.7 L172.5,665.3 L173.5,667.7 L174.5,670.9 L175.5,674.9 L176.5,679.5 L177.5,684.5 L178.5,689.9 L179.5,695.4 L180.5,701.1 L181.5,706.7 L182.6,712.1 L183.6,717.3 L184.6,722.2 L185.6,726.8 L186.6,731.0 L187.6,734.9 L188.6,738.5 L189.6,741.6 L190.6,744.5 L191.6,746.9 L192.6,749.1 L193.6,751.0 L194.6,752.6 L195.6,753.9 L196.6,755.0 L197.7,756.0 L198.7,756.8 L199.7,757.4 L200.7,757.9 L201.7,758.3 L202.7,758.5 L203.7,758.8 L204.7,759.0 L205.7,759.2 L206.7,759.3 L207.7,759.5 L208.7,759.6 L209.7,759.7 L210.7,759.8 L211.7,759.9 L212.7,760.0 L213.8,760.1 L214.8,760.1 L215.8,760.2 L216.8,760.3 L217.8,760.3 L218.8,760.3 L219.8,760.4 L220.8,760.4 L221.8,760.4 L222.8,760.5 L223.8,760.5 L224.8,760.5 L225.8,760.6 L226.8,760.6 L227.8,760.7 L228.8,760.7 L229.9,760.8 L230.9,760.8 L231.9,760.8 L232.9,760.9 L233.9,760.9 L234.9,761.0 L235.9,761.0 L236.9,761.1 L236.9,761.4 L235.9,761.4 L234.9,761.4 L233.9,761.3 L232.9,761.3 L231.9,761.3 L230.9,761.2 L229.9,761.2 L228.8,761.2 L227.8,761.1 L226.8,761.1 L225.8,761.1 L224.8,761.1 L223.8,761.0 L222.8,761.0 L221.8,761.0 L220.8,761.0 L219.8,761.0 L218.8,761.0 L217.8,761.0 L216.8,761.0 L215.8,761.0 L214.8,760.9 L213.8,760.9 L212.7,760.8 L211.7,760.8 L210.7,760.8 L209.7,760.7 L208.7,760.7 L207.7,760.6 L206.7,760.6 L205.7,760.6 L204.7,760.5 L203.7,760.5 L202.7,760.5 L201.7,760.5 L200.7,760.5 L199.7,760.4 L198.7,760.4 L197.7,760.3 L196.6,760.2 L195.6,760.0 L194.6,759.9 L193.6,759.8 L192.6,759.6 L191.6,759.5 L190.6,759.4 L189.6,759.3 L188.6,759.2 L187.6,759.1 L186.6,759.0 L185.6,759.0 L184.6,759.0 L183.6,758.9 L182.6,758.8 L181.5,758.7 L180.5,758.5 L179.5,758.3 L178.5,758.1 L177.5,757.8 L176.5,757.5 L175.5,757.3 L174.5,757.0 L173.5,756.8 L172.5,756.5 L171.5,756.4 L170.5,756.2 L169.5,756.1 L168.5,756.0 L167.5,756.0 L166.5,756.0 L165.4,755.9 L164.4,755.8 L163.4,755.6 L162.4,755.4 L161.4,755.2 L160.4,755.0 L159.4,754.8 L158.4,754.6 L157.4,754.4 L156.4,754.2 L155.4,754.0 L154.4,753.9 L153.4,753.7 L152.4,753.7 L151.4,753.6 L150.4,753.6 L149.3,753.6 L148.3,753.5 L147.3,753.5 L146.3,753.4 L145.3,753.4 L144.3,753.3 L143.3,753.2 L142.3,753.1 L141.3,753.0 L140.3,752.9 L139.3,752.7 L138.3,752.6 L137.3,752.5 L136.3,752.4 L135.3,752.3 L134.2,752.2 L133.2,752.1 L132.2,752.0 L131.2,751.9 L130.2,751.8 L129.2,751.7 L128.2,751.7 L127.2,751.6 L126.2,751.6 L125.2,751.6 L124.2,751.6 L123.2,751.6 L122.2,751.6 L121.2,751.6 L120.2,751.6 L119.2,751.6 L118.1,751.6 L117.1,751.6 L116.1,751.7 L115.1,751.7 L114.1,751.7 L113.1,751.7 L112.1,751.7 L111.1,751.7 L110.1,751.7 L109.1,751.7 L108.1,751.7 L107.1,751.8 L106.1,751.8 L105.1,751.8 L104.1,751.8Z" fill="url(#gred)"/>
<path d="M100.0,751.4 L101.0,751.3 L102.0,751.2 L103.1,751.1 L104.1,751.0 L105.1,750.9 L106.1,750.7 L107.1,750.5 L108.1,750.3 L109.1,750.1 L110.1,749.9 L111.1,749.6 L112.1,749.3 L113.1,748.9 L114.1,748.5 L115.1,748.1 L116.1,747.7 L117.1,747.2 L118.1,746.6 L119.2,746.1 L120.2,745.4 L121.2,744.8 L122.2,744.1 L123.2,743.3 L124.2,742.5 L125.2,741.7 L126.2,740.8 L127.2,739.9 L128.2,739.0 L129.2,738.1 L130.2,737.1 L131.2,736.1 L132.2,735.2 L133.2,734.2 L134.2,733.2 L135.3,732.3 L136.3,731.3 L137.3,730.4 L138.3,729.5 L139.3,728.6 L140.3,727.7 L141.3,726.9 L142.3,726.2 L143.3,725.5 L144.3,724.9 L145.3,724.3 L146.3,723.8 L147.3,723.4 L148.3,723.1 L149.3,722.9 L150.4,722.7 L151.4,722.6 L152.4,722.7 L153.4,722.9 L154.4,723.2 L155.4,723.7 L156.4,724.3 L157.4,725.0 L158.4,725.8 L159.4,726.7 L160.4,727.7 L161.4,728.7 L162.4,729.7 L163.4,730.8 L164.4,732.0 L165.4,733.1 L166.5,734.2 L167.5,735.3 L168.5,736.4 L169.5,737.6 L170.5,738.7 L171.5,740.0 L172.5,741.2 L173.5,742.5 L174.5,743.7 L175.5,745.0 L176.5,746.2 L177.5,747.3 L178.5,748.5 L179.5,749.5 L180.5,750.5 L181.5,751.4 L182.6,752.3 L183.6,753.0 L184.6,753.7 L185.6,754.2 L186.6,754.8 L187.6,755.3 L188.6,755.8 L189.6,756.3 L190.6,756.8 L191.6,757.2 L192.6,757.6 L193.6,758.0 L194.6,758.4 L195.6,758.7 L196.6,759.0 L197.7,759.3 L198.7,759.5 L199.7,759.7 L200.7,759.9 L201.7,760.0 L202.7,760.1 L203.7,760.1 L203.7,760.5 L202.7,760.5 L201.7,760.5 L200.7,760.5 L199.7,760.4 L198.7,760.4 L197.7,760.3 L196.6,760.2 L195.6,760.0 L194.6,759.9 L193.6,759.8 L192.6,759.6 L191.6,759.5 L190.6,759.4 L189.6,759.3 L188.6,759.2 L187.6,759.1 L186.6,759.0 L185.6,759.0 L184.6,759.0 L183.6,758.9 L182.6,758.8 L181.5,758.7 L180.5,758.5 L179.5,758.3 L178.5,758.1 L177.5,757.8 L176.5,757.5 L175.5,757.3 L174.5,757.0 L173.5,756.8 L172.5,756.5 L171.5,756.4 L170.5,756.2 L169.5,756.1 L168.5,756.0 L167.5,756.0 L166.5,756.0 L165.4,755.9 L164.4,755.8 L163.4,755.6 L162.4,755.4 L161.4,755.2 L160.4,755.0 L159.4,754.8 L158.4,754.6 L157.4,754.4 L156.4,754.2 L155.4,754.0 L154.4,753.9 L153.4,753.7 L152.4,753.7 L151.4,753.6 L150.4,753.6 L149.3,753.6 L148.3,753.5 L147.3,753.5 L146.3,753.4 L145.3,753.4 L144.3,753.3 L143.3,753.2 L142.3,753.1 L141.3,753.0 L140.3,752.9 L139.3,752.7 L138.3,752.6 L137.3,752.5 L136.3,752.4 L135.3,752.3 L134.2,752.2 L133.2,752.1 L132.2,752.0 L131.2,751.9 L130.2,751.8 L129.2,751.7 L128.2,751.7 L127.2,751.6 L126.2,751.6 L125.2,751.6 L124.2,751.6 L123.2,751.6 L122.2,751.6 L121.2,751.6 L120.2,751.6 L119.2,751.6 L118.1,751.6 L117.1,751.6 L116.1,751.7 L115.1,751.7 L114.1,751.7 L113.1,751.7 L112.1,751.7 L111.1,751.7 L110.1,751.7 L109.1,751.7 L108.1,751.7 L107.1,751.8 L106.1,751.8 L105.1,751.8 L104.1,751.8 L103.1,751.8 L102.0,751.8 L101.0,751.8 L100.0,751.8Z" fill="url(#gyel)"/>
<path d="M67.8,752.9 L68.8,752.8 L69.8,752.7 L70.8,752.6 L71.9,752.4 L72.9,752.3 L73.9,752.1 L74.9,752.0 L75.9,751.8 L76.9,751.6 L77.9,751.4 L78.9,751.2 L79.9,750.9 L80.9,750.7 L81.9,750.4 L82.9,750.2 L83.9,749.9 L84.9,749.7 L85.9,749.4 L87.0,749.2 L88.0,748.9 L89.0,748.7 L90.0,748.4 L91.0,748.2 L92.0,748.0 L93.0,747.8 L94.0,747.7 L95.0,747.5 L96.0,747.4 L97.0,747.3 L98.0,747.2 L99.0,747.2 L100.0,747.2 L101.0,747.2 L102.0,747.3 L103.1,747.3 L104.1,747.4 L105.1,747.5 L106.1,747.6 L107.1,747.7 L108.1,747.9 L109.1,748.0 L110.1,748.2 L111.1,748.3 L112.1,748.5 L113.1,748.7 L114.1,748.9 L115.1,749.1 L116.1,749.2 L117.1,749.4 L118.1,749.6 L119.2,749.8 L120.2,749.9 L121.2,750.1 L122.2,750.2 L123.2,750.4 L124.2,750.5 L125.2,750.6 L126.2,750.7 L127.2,750.9 L128.2,751.0 L129.2,751.2 L130.2,751.3 L131.2,751.4 L132.2,751.6 L132.2,752.0 L131.2,751.9 L130.2,751.8 L129.2,751.7 L128.2,751.7 L127.2,751.6 L126.2,751.6 L125.2,751.6 L124.2,751.6 L123.2,751.6 L122.2,751.6 L121.2,751.6 L120.2,751.6 L119.2,751.6 L118.1,751.6 L117.1,751.6 L116.1,751.7 L115.1,751.7 L114.1,751.7 L113.1,751.7 L112.1,751.7 L111.1,751.7 L110.1,751.7 L109.1,751.7 L108.1,751.7 L107.1,751.8 L106.1,751.8 L105.1,751.8 L104.1,751.8 L103.1,751.8 L102.0,751.8 L101.0,751.8 L100.0,751.8 L99.0,751.8 L98.0,751.8 L97.0,751.8 L96.0,751.8 L95.0,751.9 L94.0,751.9 L93.0,752.0 L92.0,752.0 L91.0,752.0 L90.0,752.1 L89.0,752.2 L88.0,752.2 L87.0,752.3 L85.9,752.3 L84.9,752.4 L83.9,752.5 L82.9,752.5 L81.9,752.6 L80.9,752.7 L79.9,752.7 L78.9,752.8 L77.9,752.9 L76.9,752.9 L75.9,753.0 L74.9,753.0 L73.9,753.1 L72.9,753.1 L71.9,753.2 L70.8,753.2 L69.8,753.2 L68.8,753.3 L67.8,753.3Z" fill="url(#gblu)"/>
<path d="M31.6,755.0 L32.6,755.0 L33.6,755.0 L34.6,755.0 L35.6,754.9 L36.6,754.9 L37.6,754.9 L38.6,754.8 L39.7,754.8 L40.7,754.7 L41.7,754.6 L42.7,754.6 L43.7,754.5 L44.7,754.4 L45.7,754.4 L46.7,754.3 L47.7,754.2 L48.7,754.1 L49.7,754.1 L50.7,754.0 L51.7,753.9 L52.7,753.8 L53.7,753.8 L54.7,753.7 L55.8,753.6 L56.8,753.6 L57.8,753.5 L58.8,753.5 L59.8,753.4 L60.8,753.4 L61.8,753.4 L62.8,753.3 L63.8,753.3 L64.8,753.3 L65.8,753.3 L66.8,753.3 L67.8,753.3 L68.8,753.3 L69.8,753.2 L70.8,753.2 L71.9,753.2 L72.9,753.1 L73.9,753.1 L74.9,753.0 L75.9,753.0 L76.9,752.9 L77.9,752.9 L78.9,752.8 L79.9,752.7 L80.9,752.7 L81.9,752.6 L82.9,752.5 L83.9,752.5 L84.9,752.4 L85.9,752.3 L87.0,752.3 L88.0,752.2 L89.0,752.2 L90.0,752.1 L91.0,752.0 L92.0,752.0 L93.0,752.0 L94.0,751.9 L95.0,751.9 L96.0,751.8 L97.0,751.8 L98.0,751.8 L99.0,751.8 L100.0,751.8 L101.0,751.8 L102.0,751.8 L103.1,751.8 L104.1,751.8 L105.1,751.8 L106.1,751.8 L107.1,751.8 L108.1,751.7 L109.1,751.7 L110.1,751.7 L111.1,751.7 L112.1,751.7 L113.1,751.7 L114.1,751.7 L115.1,751.7 L116.1,751.7 L117.1,751.6 L118.1,751.6 L119.2,751.6 L120.2,751.6 L121.2,751.6 L122.2,751.6 L123.2,751.6 L124.2,751.6 L125.2,751.6 L126.2,751.6 L127.2,751.6 L128.2,751.7 L129.2,751.7 L130.2,751.8 L131.2,751.9 L132.2,752.0 L133.2,752.1 L134.2,752.2 L135.3,752.3 L136.3,752.4 L137.3,752.5 L138.3,752.6 L139.3,752.7 L140.3,752.9 L141.3,753.0 L142.3,753.1 L143.3,753.2 L144.3,753.3 L145.3,753.4 L146.3,753.4 L147.3,753.5 L148.3,753.5 L149.3,753.6 L150.4,753.6 L151.4,753.6 L152.4,753.7 L153.4,753.7 L154.4,753.9 L155.4,754.0 L156.4,754.2 L157.4,754.4 L158.4,754.6 L159.4,754.8 L160.4,755.0 L161.4,755.2 L162.4,755.4 L163.4,755.6 L164.4,755.8 L165.4,755.9 L166.5,756.0 L167.5,756.0 L168.5,756.0 L169.5,756.1 L170.5,756.2 L171.5,756.4 L172.5,756.5 L173.5,756.8 L174.5,757.0 L175.5,757.3 L176.5,757.5 L177.5,757.8 L178.5,758.1 L179.5,758.3 L180.5,758.5 L181.5,758.7 L182.6,758.8 L183.6,758.9 L184.6,759.0 L185.6,759.0 L186.6,759.0 L187.6,759.1 L188.6,759.2 L189.6,759.3 L190.6,759.4 L191.6,759.5 L192.6,759.6 L193.6,759.8 L194.6,759.9 L195.6,760.0 L196.6,760.2 L197.7,760.3 L198.7,760.4 L199.7,760.4 L200.7,760.5 L201.7,760.5 L202.7,760.5 L203.7,760.5 L204.7,760.5 L205.7,760.6 L206.7,760.6 L207.7,760.6 L208.7,760.7 L209.7,760.7 L210.7,760.8 L211.7,760.8 L212.7,760.8 L213.8,760.9 L214.8,760.9 L215.8,761.0 L216.8,761.0 L217.8,761.0 L218.8,761.0 L219.8,761.0 L220.8,761.0 L221.8,761.0 L222.8,761.0 L223.8,761.0 L224.8,761.1 L225.8,761.1 L226.8,761.1 L227.8,761.1 L228.8,761.2 L229.9,761.2 L230.9,761.2 L231.9,761.3 L232.9,761.3 L233.9,761.3 L234.9,761.4 L235.9,761.4 L236.9,761.4 L237.9,761.5 L238.9,761.5 L239.9,761.5 L240.9,761.6 L241.9,761.6 L242.9,761.6 L243.9,761.7 L244.9,761.7 L246.0,761.7 L247.0,761.7 L248.0,761.8 L249.0,761.8 L250.0,761.8 L251.0,761.8 L252.0,761.8 L253.0,761.8" fill="none" stroke="#b9b9b9" stroke-width="1.1"/>
<path d="M31.6,754.9 L32.6,754.9 L33.6,754.9 L34.6,754.9 L35.6,754.8 L36.6,754.8 L37.6,754.8 L38.6,754.7 L39.7,754.7 L40.7,754.6 L41.7,754.5 L42.7,754.5 L43.7,754.4 L44.7,754.3 L45.7,754.3 L46.7,754.2 L47.7,754.1 L48.7,754.0 L49.7,753.9 L50.7,753.9 L51.7,753.8 L52.7,753.7 L53.7,753.6 L54.7,753.6 L55.8,753.5 L56.8,753.4 L57.8,753.3 L58.8,753.3 L59.8,753.2 L60.8,753.1 L61.8,753.1 L62.8,753.0 L63.8,753.0 L64.8,752.9 L65.8,752.9 L66.8,752.8 L67.8,752.7 L68.8,752.6 L69.8,752.5 L70.8,752.4 L71.9,752.3 L72.9,752.1 L73.9,752.0 L74.9,751.8 L75.9,751.6 L76.9,751.4 L77.9,751.2 L78.9,751.0 L79.9,750.7 L80.9,750.5 L81.9,750.2 L82.9,750.0 L83.9,749.7 L84.9,749.4 L85.9,749.2 L87.0,748.9 L88.0,748.6 L89.0,748.4 L90.0,748.1 L91.0,747.9 L92.0,747.7 L93.0,747.4 L94.0,747.2 L95.0,747.1 L96.0,746.9 L97.0,746.8 L98.0,746.6 L99.0,746.5 L100.0,746.5 L101.0,746.4 L102.0,746.3 L103.1,746.3 L104.1,746.2 L105.1,746.2 L106.1,746.1 L107.1,746.1 L108.1,746.0 L109.1,746.0 L110.1,745.9 L111.1,745.7 L112.1,745.6 L113.1,745.4 L114.1,745.2 L115.1,745.0 L116.1,744.7 L117.1,744.4 L118.1,744.0 L119.2,743.6 L120.2,743.1 L121.2,742.6 L122.2,742.0 L123.2,741.4 L124.2,740.7 L125.2,739.9 L126.2,739.1 L127.2,738.3 L128.2,737.5 L129.2,736.6 L130.2,735.6 L131.2,734.7 L132.2,733.7 L133.2,732.7 L134.2,731.7 L135.3,730.6 L136.3,729.6 L137.3,728.5 L138.3,727.4 L139.3,726.2 L140.3,725.0 L141.3,723.8 L142.3,722.5 L143.3,721.2 L144.3,719.7 L145.3,718.2 L146.3,716.5 L147.3,714.6 L148.3,712.6 L149.3,710.3 L150.4,707.7 L151.4,704.9 L152.4,701.9 L153.4,698.6 L154.4,695.1 L155.4,691.3 L156.4,687.2 L157.4,683.0 L158.4,678.5 L159.4,674.0 L160.4,669.4 L161.4,664.8 L162.4,660.3 L163.4,656.1 L164.4,652.3 L165.4,648.9 L166.5,646.0 L167.5,643.9 L168.5,642.5 L169.5,642.1 L170.5,642.8 L171.5,644.4 L172.5,647.0 L173.5,650.5 L174.5,654.9 L175.5,659.9 L176.5,665.6 L177.5,671.7 L178.5,678.1 L179.5,684.6 L180.5,691.2 L181.5,697.7 L182.6,704.0 L183.6,710.0 L184.6,715.7 L185.6,721.0 L186.6,725.8 L187.6,730.3 L188.6,734.4 L189.6,738.1 L190.6,741.3 L191.6,744.2 L192.6,746.7 L193.6,748.9 L194.6,750.8 L195.6,752.4 L196.6,753.7 L197.7,754.8 L198.7,755.8 L199.7,756.5 L200.7,757.2 L201.7,757.6 L202.7,758.0 L203.7,758.3 L204.7,758.6 L205.7,758.9 L206.7,759.1 L207.7,759.2 L208.7,759.4 L209.7,759.5 L210.7,759.7 L211.7,759.8 L212.7,759.9 L213.8,760.0 L214.8,760.1 L215.8,760.1 L216.8,760.2 L217.8,760.3 L218.8,760.3 L219.8,760.3 L220.8,760.4 L221.8,760.4 L222.8,760.4 L223.8,760.5 L224.8,760.5 L225.8,760.6 L226.8,760.6 L227.8,760.6 L228.8,760.7 L229.9,760.7 L230.9,760.8 L231.9,760.8 L232.9,760.9 L233.9,760.9 L234.9,761.0 L235.9,761.0 L236.9,761.1 L237.9,761.1 L238.9,761.2 L239.9,761.2 L240.9,761.2 L241.9,761.3 L242.9,761.3 L243.9,761.4 L244.9,761.4 L246.0,761.4 L247.0,761.5 L248.0,761.5 L249.0,761.5 L250.0,761.5 L251.0,761.5 L252.0,761.6 L253.0,761.6" fill="none" stroke="#b6b6b6" stroke-width="1.4" stroke-linejoin="round"/>
<path d="M31.6,754.9 L32.6,754.9 L33.6,754.9 L34.6,754.9 L35.6,754.8 L36.6,754.8 L37.6,754.8 L38.6,754.7 L39.7,754.7 L40.7,754.6 L41.7,754.5 L42.7,754.5 L43.7,754.4 L44.7,754.3 L45.7,754.3 L46.7,754.2 L47.7,754.1 L48.7,754.0 L49.7,753.9 L50.7,753.9 L51.7,753.8 L52.7,753.7 L53.7,753.6 L54.7,753.6 L55.8,753.5 L56.8,753.4 L57.8,753.3 L58.8,753.3 L59.8,753.2 L60.8,753.1 L61.8,753.1 L62.8,753.0 L63.8,753.0 L64.8,752.9 L65.8,752.9 L66.8,752.8 L67.8,752.7 L68.8,752.6 L69.8,752.5 L70.8,752.4 L71.9,752.3 L72.9,752.1 L73.9,752.0 L74.9,751.8 L75.9,751.6 L76.9,751.4 L77.9,751.2 L78.9,751.0 L79.9,750.7 L80.9,750.5 L81.9,750.2 L82.9,750.0 L83.9,749.7 L84.9,749.4 L85.9,749.2 L87.0,748.9 L88.0,748.6 L89.0,748.4 L90.0,748.1 L91.0,747.9 L92.0,747.7 L93.0,747.4 L94.0,747.2 L95.0,747.1 L96.0,746.9 L97.0,746.8 L98.0,746.6 L99.0,746.5 L100.0,746.5 L101.0,746.4 L102.0,746.3 L103.1,746.3 L104.1,746.2 L105.1,746.2 L106.1,746.1 L107.1,746.1 L108.1,746.0 L109.1,746.0 L110.1,745.9 L111.1,745.7 L112.1,745.6 L113.1,745.4 L114.1,745.2 L115.1,745.0 L116.1,744.7 L117.1,744.4 L118.1,744.0 L119.2,743.6 L120.2,743.1 L121.2,742.6 L122.2,742.0 L123.2,741.4 L124.2,740.7 L125.2,739.9 L126.2,739.1 L127.2,738.3 L128.2,737.5 L129.2,736.6 L130.2,735.6 L131.2,734.7 L132.2,733.7 L133.2,732.7 L134.2,731.7 L135.3,730.6 L136.3,729.6 L137.3,728.5 L138.3,727.4 L139.3,726.2 L140.3,725.0 L141.3,723.8 L142.3,722.5 L143.3,721.2 L144.3,719.7 L145.3,718.2 L146.3,716.5 L147.3,714.6 L148.3,712.6 L149.3,710.3 L150.4,707.7 L151.4,704.9 L152.4,701.9 L153.4,698.6 L154.4,695.1 L155.4,691.3 L156.4,687.2 L157.4,683.0 L158.4,678.5 L159.4,674.0 L160.4,669.4 L161.4,664.8 L162.4,660.3 L163.4,656.1 L164.4,652.3 L165.4,648.9 L166.5,646.0 L167.5,643.9 L168.5,642.5 L169.5,642.1 L170.5,642.8 L171.5,644.4 L172.5,647.0 L173.5,650.5 L174.5,654.9 L175.5,659.9 L176.5,665.6 L177.5,671.7 L178.5,678.1 L179.5,684.6 L180.5,691.2 L181.5,697.7 L182.6,704.0 L183.6,710.0 L184.6,715.7 L185.6,721.0 L186.6,725.8 L187.6,730.3 L188.6,734.4 L189.6,738.1 L190.6,741.3 L191.6,744.2 L192.6,746.7 L193.6,748.9 L194.6,750.8 L195.6,752.4 L196.6,753.7 L197.7,754.8 L198.7,755.8 L199.7,756.5 L200.7,757.2 L201.7,757.6 L202.7,758.0 L203.7,758.3 L204.7,758.6 L205.7,758.9 L206.7,759.1 L207.7,759.2 L208.7,759.4 L209.7,759.5 L210.7,759.7 L211.7,759.8 L212.7,759.9 L213.8,760.0 L214.8,760.1 L215.8,760.1 L216.8,760.2 L217.8,760.3 L218.8,760.3 L219.8,760.3 L220.8,760.4 L221.8,760.4 L222.8,760.4 L223.8,760.5 L224.8,760.5 L225.8,760.6 L226.8,760.6 L227.8,760.6 L228.8,760.7 L229.9,760.7 L230.9,760.8 L231.9,760.8 L232.9,760.9 L233.9,760.9 L234.9,761.0 L235.9,761.0 L236.9,761.1 L237.9,761.1 L238.9,761.2 L239.9,761.2 L240.9,761.2 L241.9,761.3 L242.9,761.3 L243.9,761.4 L244.9,761.4 L246.0,761.4 L247.0,761.5 L248.0,761.5 L249.0,761.5 L250.0,761.5 L251.0,761.5 L252.0,761.6 L253.0,761.6" fill="none" stroke="#e6e6e6" stroke-width="0.5" stroke-linejoin="round"/>
</g>
<rect x="31.6" y="599.0" width="221.4" height="177.5" fill="none" stroke="#262626" stroke-width="1"/>
<line x1="48.6" y1="776.5" x2="48.6" y2="772.9" stroke="#262626" stroke-width="1"/>
<text x="48.6" y="793.2" font-size="11.6" fill="#1a1a1a" text-anchor="middle" textLength="18.4" lengthAdjust="spacingAndGlyphs">292</text>
<line x1="82.7" y1="776.5" x2="82.7" y2="772.9" stroke="#262626" stroke-width="1"/>
<text x="82.7" y="793.2" font-size="11.6" fill="#1a1a1a" text-anchor="middle" textLength="18.4" lengthAdjust="spacingAndGlyphs">290</text>
<line x1="116.8" y1="776.5" x2="116.8" y2="772.9" stroke="#262626" stroke-width="1"/>
<text x="116.8" y="793.2" font-size="11.6" fill="#1a1a1a" text-anchor="middle" textLength="18.4" lengthAdjust="spacingAndGlyphs">288</text>
<line x1="150.8" y1="776.5" x2="150.8" y2="772.9" stroke="#262626" stroke-width="1"/>
<text x="150.8" y="793.2" font-size="11.6" fill="#1a1a1a" text-anchor="middle" textLength="18.4" lengthAdjust="spacingAndGlyphs">286</text>
<line x1="184.9" y1="776.5" x2="184.9" y2="772.9" stroke="#262626" stroke-width="1"/>
<text x="184.9" y="793.2" font-size="11.6" fill="#1a1a1a" text-anchor="middle" textLength="18.4" lengthAdjust="spacingAndGlyphs">284</text>
<line x1="218.9" y1="776.5" x2="218.9" y2="772.9" stroke="#262626" stroke-width="1"/>
<text x="218.9" y="793.2" font-size="11.6" fill="#1a1a1a" text-anchor="middle" textLength="18.4" lengthAdjust="spacingAndGlyphs">282</text>
<line x1="253.0" y1="776.5" x2="253.0" y2="772.9" stroke="#262626" stroke-width="1"/>
<text x="253.0" y="793.2" font-size="11.6" fill="#1a1a1a" text-anchor="middle" textLength="18.4" lengthAdjust="spacingAndGlyphs">280</text>
<line x1="65.7" y1="776.5" x2="65.7" y2="774.5" stroke="#262626" stroke-width="1"/>
<line x1="99.7" y1="776.5" x2="99.7" y2="774.5" stroke="#262626" stroke-width="1"/>
<line x1="133.8" y1="776.5" x2="133.8" y2="774.5" stroke="#262626" stroke-width="1"/>
<line x1="167.8" y1="776.5" x2="167.8" y2="774.5" stroke="#262626" stroke-width="1"/>
<line x1="201.9" y1="776.5" x2="201.9" y2="774.5" stroke="#262626" stroke-width="1"/>
<line x1="236.0" y1="776.5" x2="236.0" y2="774.5" stroke="#262626" stroke-width="1"/>
<text x="143.0" y="810.8" font-size="11.6" fill="#1a1a1a" text-anchor="middle" textLength="105.5" lengthAdjust="spacingAndGlyphs">Binding energy (eV)</text>
<text transform="translate(16.0,688.0) rotate(-90)" font-size="11.6" fill="#1a1a1a" text-anchor="middle" textLength="46.0" lengthAdjust="spacingAndGlyphs">Intensity</text>
<text x="172.5" y="635.0" font-size="11.6" fill="#1a1a1a" text-anchor="start" textLength="22.3" lengthAdjust="spacingAndGlyphs">C 1s</text>
<text x="185.8" y="688.0" font-size="11.6" fill="#1a1a1a" text-anchor="start" textLength="21.2" lengthAdjust="spacingAndGlyphs">C–C</text>
<text x="97.2" y="744.0" font-size="11.6" fill="#1a1a1a" text-anchor="start" textLength="22.6" lengthAdjust="spacingAndGlyphs">C=O</text>
<text x="147.5" y="744.0" font-size="11.6" fill="#1a1a1a" text-anchor="start" textLength="22.3" lengthAdjust="spacingAndGlyphs">C–O</text>
<text x="5.0" y="598.0" font-size="11.6" fill="#1a1a1a" text-anchor="start" textLength="12.5" lengthAdjust="spacingAndGlyphs">(h)</text>
<g clip-path="url(#clipi)">
<path d="M359.8,748.0 L360.8,747.9 L361.8,747.8 L362.8,747.7 L363.8,747.6 L364.8,747.5 L365.9,747.4 L366.9,747.2 L367.9,747.0 L368.9,746.8 L369.9,746.5 L370.9,746.3 L371.9,746.0 L372.9,745.6 L373.9,745.2 L374.9,744.8 L375.9,744.3 L377.0,743.8 L378.0,743.2 L379.0,742.6 L380.0,741.9 L381.0,741.1 L382.0,740.3 L383.0,739.3 L384.0,738.4 L385.0,737.3 L386.0,736.1 L387.0,734.9 L388.1,733.6 L389.1,732.1 L390.1,730.6 L391.1,729.0 L392.1,727.3 L393.1,725.6 L394.1,723.7 L395.1,721.8 L396.1,719.7 L397.1,717.6 L398.1,715.5 L399.2,713.2 L400.2,710.9 L401.2,708.6 L402.2,706.2 L403.2,703.8 L404.2,701.3 L405.2,698.9 L406.2,696.5 L407.2,694.1 L408.2,691.7 L409.2,689.3 L410.3,687.1 L411.3,684.9 L412.3,682.8 L413.3,680.7 L414.3,678.9 L415.3,677.1 L416.3,675.5 L417.3,674.0 L418.3,672.7 L419.3,671.6 L420.3,670.6 L421.4,669.8 L422.4,669.3 L423.4,668.9 L424.4,668.8 L425.4,668.8 L426.4,669.0 L427.4,669.5 L428.4,670.1 L429.4,671.0 L430.4,672.0 L431.4,673.2 L432.5,674.6 L433.5,676.1 L434.5,677.8 L435.5,679.6 L436.5,681.5 L437.5,683.6 L438.5,685.7 L439.5,688.0 L440.5,690.3 L441.5,692.7 L442.5,695.1 L443.6,697.5 L444.6,699.9 L445.6,702.4 L446.6,704.8 L447.6,707.2 L448.6,709.6 L449.6,712.0 L450.6,714.3 L451.6,716.5 L452.6,718.7 L453.6,720.8 L454.7,722.8 L455.7,724.7 L456.7,726.5 L457.7,728.3 L458.7,730.0 L459.7,731.5 L460.7,733.0 L461.7,734.4 L462.7,735.7 L463.7,736.9 L464.7,738.1 L465.8,739.1 L466.8,740.1 L467.8,741.0 L468.8,741.8 L469.8,742.5 L470.8,743.2 L471.8,743.8 L472.8,744.4 L473.8,744.9 L474.8,745.4 L475.8,745.8 L476.9,746.2 L477.9,746.5 L478.9,746.8 L479.9,747.1 L480.9,747.4 L481.9,747.6 L482.9,747.8 L483.9,748.0 L484.9,748.1 L485.9,748.3 L486.9,748.4 L488.0,748.5 L489.0,748.6 L490.0,748.7 L490.0,749.1 L489.0,749.1 L488.0,749.0 L486.9,749.0 L485.9,749.0 L484.9,749.0 L483.9,748.9 L482.9,748.9 L481.9,748.9 L480.9,748.9 L479.9,748.9 L478.9,748.9 L477.9,748.8 L476.9,748.8 L475.8,748.8 L474.8,748.8 L473.8,748.8 L472.8,748.8 L471.8,748.8 L470.8,748.8 L469.8,748.8 L468.8,748.8 L467.8,748.8 L466.8,748.8 L465.8,748.8 L464.7,748.8 L463.7,748.8 L462.7,748.8 L461.7,748.8 L460.7,748.7 L459.7,748.7 L458.7,748.7 L457.7,748.7 L456.7,748.7 L455.7,748.7 L454.7,748.7 L453.6,748.7 L452.6,748.6 L451.6,748.6 L450.6,748.6 L449.6,748.6 L448.6,748.6 L447.6,748.6 L446.6,748.6 L445.6,748.5 L444.6,748.5 L443.6,748.5 L442.5,748.5 L441.5,748.5 L440.5,748.5 L439.5,748.4 L438.5,748.4 L437.5,748.4 L436.5,748.4 L435.5,748.4 L434.5,748.4 L433.5,748.4 L432.5,748.3 L431.4,748.3 L430.4,748.3 L429.4,748.3 L428.4,748.3 L427.4,748.3 L426.4,748.3 L425.4,748.3 L424.4,748.2 L423.4,748.2 L422.4,748.2 L421.4,748.2 L420.3,748.2 L419.3,748.2 L418.3,748.2 L417.3,748.2 L416.3,748.2 L415.3,748.2 L414.3,748.2 L413.3,748.2 L412.3,748.2 L411.3,748.2 L410.3,748.2 L409.2,748.2 L408.2,748.2 L407.2,748.2 L406.2,748.2 L405.2,748.2 L404.2,748.2 L403.2,748.2 L402.2,748.2 L401.2,748.2 L400.2,748.2 L399.2,748.2 L398.1,748.2 L397.1,748.3 L396.1,748.3 L395.1,748.3 L394.1,748.3 L393.1,748.3 L392.1,748.3 L391.1,748.3 L390.1,748.3 L389.1,748.3 L388.1,748.3 L387.0,748.3 L386.0,748.3 L385.0,748.3 L384.0,748.3 L383.0,748.3 L382.0,748.3 L381.0,748.3 L380.0,748.3 L379.0,748.3 L378.0,748.3 L377.0,748.4 L375.9,748.4 L374.9,748.4 L373.9,748.4 L372.9,748.4 L371.9,748.4 L370.9,748.4 L369.9,748.4 L368.9,748.4 L367.9,748.4 L366.9,748.4 L365.9,748.4 L364.8,748.4 L363.8,748.4 L362.8,748.4 L361.8,748.4 L360.8,748.4 L359.8,748.4Z" fill="url(#gpur)"/>
<path d="M351.7,748.1 L352.7,748.0 L353.7,747.9 L354.8,747.8 L355.8,747.7 L356.8,747.6 L357.8,747.4 L358.8,747.3 L359.8,747.1 L360.8,746.9 L361.8,746.7 L362.8,746.4 L363.8,746.2 L364.8,745.8 L365.9,745.5 L366.9,745.1 L367.9,744.7 L368.9,744.2 L369.9,743.7 L370.9,743.1 L371.9,742.5 L372.9,741.8 L373.9,741.1 L374.9,740.3 L375.9,739.5 L377.0,738.6 L378.0,737.6 L379.0,736.6 L380.0,735.6 L381.0,734.4 L382.0,733.3 L383.0,732.1 L384.0,730.8 L385.0,729.5 L386.0,728.2 L387.0,726.8 L388.1,725.5 L389.1,724.1 L390.1,722.7 L391.1,721.3 L392.1,719.9 L393.1,718.6 L394.1,717.2 L395.1,716.0 L396.1,714.7 L397.1,713.5 L398.1,712.4 L399.2,711.4 L400.2,710.4 L401.2,709.6 L402.2,708.8 L403.2,708.2 L404.2,707.6 L405.2,707.2 L406.2,706.9 L407.2,706.8 L408.2,706.7 L409.2,706.8 L410.3,707.0 L411.3,707.3 L412.3,707.8 L413.3,708.3 L414.3,709.0 L415.3,709.8 L416.3,710.7 L417.3,711.7 L418.3,712.7 L419.3,713.8 L420.3,715.0 L421.4,716.3 L422.4,717.6 L423.4,718.9 L424.4,720.3 L425.4,721.7 L426.4,723.1 L427.4,724.5 L428.4,725.9 L429.4,727.3 L430.4,728.6 L431.4,729.9 L432.5,731.2 L433.5,732.5 L434.5,733.7 L435.5,734.8 L436.5,735.9 L437.5,737.0 L438.5,738.0 L439.5,738.9 L440.5,739.8 L441.5,740.6 L442.5,741.4 L443.6,742.1 L444.6,742.8 L445.6,743.4 L446.6,744.0 L447.6,744.5 L448.6,745.0 L449.6,745.4 L450.6,745.8 L451.6,746.2 L452.6,746.5 L453.6,746.8 L454.7,747.0 L455.7,747.3 L456.7,747.5 L457.7,747.7 L458.7,747.8 L459.7,748.0 L460.7,748.1 L461.7,748.2 L462.7,748.3 L463.7,748.4 L463.7,748.8 L462.7,748.8 L461.7,748.8 L460.7,748.7 L459.7,748.7 L458.7,748.7 L457.7,748.7 L456.7,748.7 L455.7,748.7 L454.7,748.7 L453.6,748.7 L452.6,748.6 L451.6,748.6 L450.6,748.6 L449.6,748.6 L448.6,748.6 L447.6,748.6 L446.6,748.6 L445.6,748.5 L444.6,748.5 L443.6,748.5 L442.5,748.5 L441.5,748.5 L440.5,748.5 L439.5,748.4 L438.5,748.4 L437.5,748.4 L436.5,748.4 L435.5,748.4 L434.5,748.4 L433.5,748.4 L432.5,748.3 L431.4,748.3 L430.4,748.3 L429.4,748.3 L428.4,748.3 L427.4,748.3 L426.4,748.3 L425.4,748.3 L424.4,748.2 L423.4,748.2 L422.4,748.2 L421.4,748.2 L420.3,748.2 L419.3,748.2 L418.3,748.2 L417.3,748.2 L416.3,748.2 L415.3,748.2 L414.3,748.2 L413.3,748.2 L412.3,748.2 L411.3,748.2 L410.3,748.2 L409.2,748.2 L408.2,748.2 L407.2,748.2 L406.2,748.2 L405.2,748.2 L404.2,748.2 L403.2,748.2 L402.2,748.2 L401.2,748.2 L400.2,748.2 L399.2,748.2 L398.1,748.2 L397.1,748.3 L396.1,748.3 L395.1,748.3 L394.1,748.3 L393.1,748.3 L392.1,748.3 L391.1,748.3 L390.1,748.3 L389.1,748.3 L388.1,748.3 L387.0,748.3 L386.0,748.3 L385.0,748.3 L384.0,748.3 L383.0,748.3 L382.0,748.3 L381.0,748.3 L380.0,748.3 L379.0,748.3 L378.0,748.3 L377.0,748.4 L375.9,748.4 L374.9,748.4 L373.9,748.4 L372.9,748.4 L371.9,748.4 L370.9,748.4 L369.9,748.4 L368.9,748.4 L367.9,748.4 L366.9,748.4 L365.9,748.4 L364.8,748.4 L363.8,748.4 L362.8,748.4 L361.8,748.4 L360.8,748.4 L359.8,748.4 L358.8,748.4 L357.8,748.4 L356.8,748.4 L355.8,748.4 L354.8,748.4 L353.7,748.4 L352.7,748.4 L351.7,748.4Z" fill="url(#gora)"/>
<path d="M304.3,748.8 L305.3,748.8 L306.3,748.8 L307.3,748.8 L308.3,748.8 L309.3,748.8 L310.4,748.8 L311.4,748.8 L312.4,748.8 L313.4,748.8 L314.4,748.8 L315.4,748.8 L316.4,748.8 L317.4,748.7 L318.4,748.7 L319.4,748.7 L320.4,748.7 L321.5,748.7 L322.5,748.7 L323.5,748.7 L324.5,748.7 L325.5,748.7 L326.5,748.7 L327.5,748.6 L328.5,748.6 L329.5,748.6 L330.5,748.6 L331.5,748.6 L332.6,748.6 L333.6,748.6 L334.6,748.6 L335.6,748.6 L336.6,748.6 L337.6,748.5 L338.6,748.5 L339.6,748.5 L340.6,748.5 L341.6,748.5 L342.6,748.5 L343.7,748.5 L344.7,748.5 L345.7,748.5 L346.7,748.5 L347.7,748.4 L348.7,748.4 L349.7,748.4 L350.7,748.4 L351.7,748.4 L352.7,748.4 L353.7,748.4 L354.8,748.4 L355.8,748.4 L356.8,748.4 L357.8,748.4 L358.8,748.4 L359.8,748.4 L360.8,748.4 L361.8,748.4 L362.8,748.4 L363.8,748.4 L364.8,748.4 L365.9,748.4 L366.9,748.4 L367.9,748.4 L368.9,748.4 L369.9,748.4 L370.9,748.4 L371.9,748.4 L372.9,748.4 L373.9,748.4 L374.9,748.4 L375.9,748.4 L377.0,748.4 L378.0,748.3 L379.0,748.3 L380.0,748.3 L381.0,748.3 L382.0,748.3 L383.0,748.3 L384.0,748.3 L385.0,748.3 L386.0,748.3 L387.0,748.3 L388.1,748.3 L389.1,748.3 L390.1,748.3 L391.1,748.3 L392.1,748.3 L393.1,748.3 L394.1,748.3 L395.1,748.3 L396.1,748.3 L397.1,748.3 L398.1,748.2 L399.2,748.2 L400.2,748.2 L401.2,748.2 L402.2,748.2 L403.2,748.2 L404.2,748.2 L405.2,748.2 L406.2,748.2 L407.2,748.2 L408.2,748.2 L409.2,748.2 L410.3,748.2 L411.3,748.2 L412.3,748.2 L413.3,748.2 L414.3,748.2 L415.3,748.2 L416.3,748.2 L417.3,748.2 L418.3,748.2 L419.3,748.2 L420.3,748.2 L421.4,748.2 L422.4,748.2 L423.4,748.2 L424.4,748.2 L425.4,748.3 L426.4,748.3 L427.4,748.3 L428.4,748.3 L429.4,748.3 L430.4,748.3 L431.4,748.3 L432.5,748.3 L433.5,748.4 L434.5,748.4 L435.5,748.4 L436.5,748.4 L437.5,748.4 L438.5,748.4 L439.5,748.4 L440.5,748.5 L441.5,748.5 L442.5,748.5 L443.6,748.5 L444.6,748.5 L445.6,748.5 L446.6,748.6 L447.6,748.6 L448.6,748.6 L449.6,748.6 L450.6,748.6 L451.6,748.6 L452.6,748.6 L453.6,748.7 L454.7,748.7 L455.7,748.7 L456.7,748.7 L457.7,748.7 L458.7,748.7 L459.7,748.7 L460.7,748.7 L461.7,748.8 L462.7,748.8 L463.7,748.8 L464.7,748.8 L465.8,748.8 L466.8,748.8 L467.8,748.8 L468.8,748.8 L469.8,748.8 L470.8,748.8 L471.8,748.8 L472.8,748.8 L473.8,748.8 L474.8,748.8 L475.8,748.8 L476.9,748.8 L477.9,748.8 L478.9,748.9 L479.9,748.9 L480.9,748.9 L481.9,748.9 L482.9,748.9 L483.9,748.9 L484.9,749.0 L485.9,749.0 L486.9,749.0 L488.0,749.0 L489.0,749.1 L490.0,749.1 L491.0,749.1 L492.0,749.1 L493.0,749.2 L494.0,749.2 L495.0,749.2 L496.0,749.2 L497.0,749.3 L498.0,749.3 L499.1,749.3 L500.1,749.3 L501.1,749.4 L502.1,749.4 L503.1,749.4 L504.1,749.4 L505.1,749.5 L506.1,749.5 L507.1,749.5 L508.1,749.5 L509.1,749.6 L510.2,749.6 L511.2,749.6 L512.2,749.6 L513.2,749.7 L514.2,749.7 L515.2,749.7 L516.2,749.7 L517.2,749.7 L518.2,749.7 L519.2,749.8 L520.2,749.8 L521.3,749.8 L522.3,749.8 L523.3,749.8 L524.3,749.8 L525.3,749.8 L526.3,749.8" fill="none" stroke="#b9b9b9" stroke-width="1.1"/>
<path d="M304.3,748.8 L305.3,748.8 L306.3,748.8 L307.3,748.8 L308.3,748.8 L309.3,748.8 L310.4,748.8 L311.4,748.8 L312.4,748.8 L313.4,748.8 L314.4,748.8 L315.4,748.8 L316.4,748.8 L317.4,748.7 L318.4,748.7 L319.4,748.7 L320.4,748.7 L321.5,748.7 L322.5,748.7 L323.5,748.7 L324.5,748.7 L325.5,748.7 L326.5,748.7 L327.5,748.6 L328.5,748.6 L329.5,748.6 L330.5,748.6 L331.5,748.6 L332.6,748.6 L333.6,748.6 L334.6,748.6 L335.6,748.5 L336.6,748.5 L337.6,748.5 L338.6,748.5 L339.6,748.5 L340.6,748.5 L341.6,748.4 L342.6,748.4 L343.7,748.4 L344.7,748.4 L345.7,748.3 L346.7,748.3 L347.7,748.2 L348.7,748.2 L349.7,748.1 L350.7,748.1 L351.7,748.0 L352.7,747.9 L353.7,747.8 L354.8,747.7 L355.8,747.6 L356.8,747.4 L357.8,747.3 L358.8,747.1 L359.8,746.9 L360.8,746.6 L361.8,746.4 L362.8,746.0 L363.8,745.7 L364.8,745.3 L365.9,744.8 L366.9,744.3 L367.9,743.8 L368.9,743.1 L369.9,742.5 L370.9,741.7 L371.9,740.8 L372.9,739.9 L373.9,738.9 L374.9,737.8 L375.9,736.6 L377.0,735.3 L378.0,733.9 L379.0,732.4 L380.0,730.8 L381.0,729.0 L382.0,727.2 L383.0,725.2 L384.0,723.2 L385.0,721.0 L386.0,718.7 L387.0,716.3 L388.1,713.8 L389.1,711.1 L390.1,708.4 L391.1,705.6 L392.1,702.8 L393.1,699.8 L394.1,696.8 L395.1,693.7 L396.1,690.6 L397.1,687.5 L398.1,684.4 L399.2,681.2 L400.2,678.1 L401.2,675.0 L402.2,672.0 L403.2,669.0 L404.2,666.1 L405.2,663.3 L406.2,660.7 L407.2,658.1 L408.2,655.7 L409.2,653.4 L410.3,651.3 L411.3,649.4 L412.3,647.7 L413.3,646.2 L414.3,644.9 L415.3,643.8 L416.3,642.9 L417.3,642.3 L418.3,641.9 L419.3,641.7 L420.3,641.8 L421.4,642.2 L422.4,642.7 L423.4,643.5 L424.4,644.5 L425.4,645.8 L426.4,647.2 L427.4,648.8 L428.4,650.7 L429.4,652.7 L430.4,654.9 L431.4,657.2 L432.5,659.7 L433.5,662.3 L434.5,665.0 L435.5,667.8 L436.5,670.7 L437.5,673.7 L438.5,676.7 L439.5,679.7 L440.5,682.8 L441.5,685.9 L442.5,688.9 L443.6,692.0 L444.6,695.0 L445.6,698.0 L446.6,700.9 L447.6,703.7 L448.6,706.5 L449.6,709.2 L450.6,711.8 L451.6,714.4 L452.6,716.8 L453.6,719.1 L454.7,721.3 L455.7,723.5 L456.7,725.5 L457.7,727.4 L458.7,729.2 L459.7,730.9 L460.7,732.4 L461.7,733.9 L462.7,735.3 L463.7,736.6 L464.7,737.8 L465.8,738.9 L466.8,739.9 L467.8,740.8 L468.8,741.7 L469.8,742.4 L470.8,743.1 L471.8,743.8 L472.8,744.3 L473.8,744.9 L474.8,745.3 L475.8,745.8 L476.9,746.2 L477.9,746.5 L478.9,746.8 L479.9,747.1 L480.9,747.3 L481.9,747.6 L482.9,747.8 L483.9,747.9 L484.9,748.1 L485.9,748.2 L486.9,748.4 L488.0,748.5 L489.0,748.6 L490.0,748.7 L491.0,748.8 L492.0,748.8 L493.0,748.9 L494.0,749.0 L495.0,749.0 L496.0,749.1 L497.0,749.1 L498.0,749.2 L499.1,749.2 L500.1,749.3 L501.1,749.3 L502.1,749.4 L503.1,749.4 L504.1,749.4 L505.1,749.4 L506.1,749.5 L507.1,749.5 L508.1,749.5 L509.1,749.6 L510.2,749.6 L511.2,749.6 L512.2,749.6 L513.2,749.7 L514.2,749.7 L515.2,749.7 L516.2,749.7 L517.2,749.7 L518.2,749.7 L519.2,749.8 L520.2,749.8 L521.3,749.8 L522.3,749.8 L523.3,749.8 L524.3,749.8 L525.3,749.8 L526.3,749.8" fill="none" stroke="#b6b6b6" stroke-width="1.4" stroke-linejoin="round"/>
<path d="M304.3,748.8 L305.3,748.8 L306.3,748.8 L307.3,748.8 L308.3,748.8 L309.3,748.8 L310.4,748.8 L311.4,748.8 L312.4,748.8 L313.4,748.8 L314.4,748.8 L315.4,748.8 L316.4,748.8 L317.4,748.7 L318.4,748.7 L319.4,748.7 L320.4,748.7 L321.5,748.7 L322.5,748.7 L323.5,748.7 L324.5,748.7 L325.5,748.7 L326.5,748.7 L327.5,748.6 L328.5,748.6 L329.5,748.6 L330.5,748.6 L331.5,748.6 L332.6,748.6 L333.6,748.6 L334.6,748.6 L335.6,748.5 L336.6,748.5 L337.6,748.5 L338.6,748.5 L339.6,748.5 L340.6,748.5 L341.6,748.4 L342.6,748.4 L343.7,748.4 L344.7,748.4 L345.7,748.3 L346.7,748.3 L347.7,748.2 L348.7,748.2 L349.7,748.1 L350.7,748.1 L351.7,748.0 L352.7,747.9 L353.7,747.8 L354.8,747.7 L355.8,747.6 L356.8,747.4 L357.8,747.3 L358.8,747.1 L359.8,746.9 L360.8,746.6 L361.8,746.4 L362.8,746.0 L363.8,745.7 L364.8,745.3 L365.9,744.8 L366.9,744.3 L367.9,743.8 L368.9,743.1 L369.9,742.5 L370.9,741.7 L371.9,740.8 L372.9,739.9 L373.9,738.9 L374.9,737.8 L375.9,736.6 L377.0,735.3 L378.0,733.9 L379.0,732.4 L380.0,730.8 L381.0,729.0 L382.0,727.2 L383.0,725.2 L384.0,723.2 L385.0,721.0 L386.0,718.7 L387.0,716.3 L388.1,713.8 L389.1,711.1 L390.1,708.4 L391.1,705.6 L392.1,702.8 L393.1,699.8 L394.1,696.8 L395.1,693.7 L396.1,690.6 L397.1,687.5 L398.1,684.4 L399.2,681.2 L400.2,678.1 L401.2,675.0 L402.2,672.0 L403.2,669.0 L404.2,666.1 L405.2,663.3 L406.2,660.7 L407.2,658.1 L408.2,655.7 L409.2,653.4 L410.3,651.3 L411.3,649.4 L412.3,647.7 L413.3,646.2 L414.3,644.9 L415.3,643.8 L416.3,642.9 L417.3,642.3 L418.3,641.9 L419.3,641.7 L420.3,641.8 L421.4,642.2 L422.4,642.7 L423.4,643.5 L424.4,644.5 L425.4,645.8 L426.4,647.2 L427.4,648.8 L428.4,650.7 L429.4,652.7 L430.4,654.9 L431.4,657.2 L432.5,659.7 L433.5,662.3 L434.5,665.0 L435.5,667.8 L436.5,670.7 L437.5,673.7 L438.5,676.7 L439.5,679.7 L440.5,682.8 L441.5,685.9 L442.5,688.9 L443.6,692.0 L444.6,695.0 L445.6,698.0 L446.6,700.9 L447.6,703.7 L448.6,706.5 L449.6,709.2 L450.6,711.8 L451.6,714.4 L452.6,716.8 L453.6,719.1 L454.7,721.3 L455.7,723.5 L456.7,725.5 L457.7,727.4 L458.7,729.2 L459.7,730.9 L460.7,732.4 L461.7,733.9 L462.7,735.3 L463.7,736.6 L464.7,737.8 L465.8,738.9 L466.8,739.9 L467.8,740.8 L468.8,741.7 L469.8,742.4 L470.8,743.1 L471.8,743.8 L472.8,744.3 L473.8,744.9 L474.8,745.3 L475.8,745.8 L476.9,746.2 L477.9,746.5 L478.9,746.8 L479.9,747.1 L480.9,747.3 L481.9,747.6 L482.9,747.8 L483.9,747.9 L484.9,748.1 L485.9,748.2 L486.9,748.4 L488.0,748.5 L489.0,748.6 L490.0,748.7 L491.0,748.8 L492.0,748.8 L493.0,748.9 L494.0,749.0 L495.0,749.0 L496.0,749.1 L497.0,749.1 L498.0,749.2 L499.1,749.2 L500.1,749.3 L501.1,749.3 L502.1,749.4 L503.1,749.4 L504.1,749.4 L505.1,749.4 L506.1,749.5 L507.1,749.5 L508.1,749.5 L509.1,749.6 L510.2,749.6 L511.2,749.6 L512.2,749.6 L513.2,749.7 L514.2,749.7 L515.2,749.7 L516.2,749.7 L517.2,749.7 L518.2,749.7 L519.2,749.8 L520.2,749.8 L521.3,749.8 L522.3,749.8 L523.3,749.8 L524.3,749.8 L525.3,749.8 L526.3,749.8" fill="none" stroke="#e6e6e6" stroke-width="0.5" stroke-linejoin="round"/>
</g>
<rect x="304.3" y="599.0" width="222.0" height="177.5" fill="none" stroke="#262626" stroke-width="1"/>
<line x1="304.3" y1="776.5" x2="304.3" y2="772.9" stroke="#262626" stroke-width="1"/>
<text x="304.3" y="793.2" font-size="11.6" fill="#1a1a1a" text-anchor="middle" textLength="18.4" lengthAdjust="spacingAndGlyphs">108</text>
<line x1="332.1" y1="776.5" x2="332.1" y2="772.9" stroke="#262626" stroke-width="1"/>
<text x="332.1" y="793.2" font-size="11.6" fill="#1a1a1a" text-anchor="middle" textLength="18.4" lengthAdjust="spacingAndGlyphs">107</text>
<line x1="359.8" y1="776.5" x2="359.8" y2="772.9" stroke="#262626" stroke-width="1"/>
<text x="359.8" y="793.2" font-size="11.6" fill="#1a1a1a" text-anchor="middle" textLength="18.4" lengthAdjust="spacingAndGlyphs">106</text>
<line x1="387.5" y1="776.5" x2="387.5" y2="772.9" stroke="#262626" stroke-width="1"/>
<text x="387.5" y="793.2" font-size="11.6" fill="#1a1a1a" text-anchor="middle" textLength="18.4" lengthAdjust="spacingAndGlyphs">105</text>
<line x1="415.3" y1="776.5" x2="415.3" y2="772.9" stroke="#262626" stroke-width="1"/>
<text x="415.3" y="793.2" font-size="11.6" fill="#1a1a1a" text-anchor="middle" textLength="18.4" lengthAdjust="spacingAndGlyphs">104</text>
<line x1="443.0" y1="776.5" x2="443.0" y2="772.9" stroke="#262626" stroke-width="1"/>
<text x="443.0" y="793.2" font-size="11.6" fill="#1a1a1a" text-anchor="middle" textLength="18.4" lengthAdjust="spacingAndGlyphs">103</text>
<line x1="470.8" y1="776.5" x2="470.8" y2="772.9" stroke="#262626" stroke-width="1"/>
<text x="470.8" y="793.2" font-size="11.6" fill="#1a1a1a" text-anchor="middle" textLength="18.4" lengthAdjust="spacingAndGlyphs">102</text>
<line x1="498.5" y1="776.5" x2="498.5" y2="772.9" stroke="#262626" stroke-width="1"/>
<text x="498.5" y="793.2" font-size="11.6" fill="#1a1a1a" text-anchor="middle" textLength="18.4" lengthAdjust="spacingAndGlyphs">101</text>
<line x1="526.3" y1="776.5" x2="526.3" y2="772.9" stroke="#262626" stroke-width="1"/>
<text x="526.3" y="793.2" font-size="11.6" fill="#1a1a1a" text-anchor="middle" textLength="18.4" lengthAdjust="spacingAndGlyphs">100</text>
<line x1="512.4" y1="776.5" x2="512.4" y2="774.5" stroke="#262626" stroke-width="1"/>
<line x1="484.7" y1="776.5" x2="484.7" y2="774.5" stroke="#262626" stroke-width="1"/>
<line x1="456.9" y1="776.5" x2="456.9" y2="774.5" stroke="#262626" stroke-width="1"/>
<line x1="429.2" y1="776.5" x2="429.2" y2="774.5" stroke="#262626" stroke-width="1"/>
<line x1="401.4" y1="776.5" x2="401.4" y2="774.5" stroke="#262626" stroke-width="1"/>
<line x1="373.7" y1="776.5" x2="373.7" y2="774.5" stroke="#262626" stroke-width="1"/>
<line x1="345.9" y1="776.5" x2="345.9" y2="774.5" stroke="#262626" stroke-width="1"/>
<line x1="318.2" y1="776.5" x2="318.2" y2="774.5" stroke="#262626" stroke-width="1"/>
<text x="416.0" y="810.8" font-size="11.6" fill="#1a1a1a" text-anchor="middle" textLength="105.5" lengthAdjust="spacingAndGlyphs">Binding energy (eV)</text>
<text transform="translate(289.3,688.0) rotate(-90)" font-size="11.6" fill="#1a1a1a" text-anchor="middle" textLength="46.0" lengthAdjust="spacingAndGlyphs">Intensity</text>
<text x="444.0" y="644.0" font-size="11.6" fill="#1a1a1a" text-anchor="start" textLength="26.8" lengthAdjust="spacingAndGlyphs">Si 2p</text>
<text x="423.8" y="716.5" font-size="11.6" fill="#1a1a1a" text-anchor="start" textLength="9.5" lengthAdjust="spacingAndGlyphs">Si</text>
<text x="433.6" y="711.5" font-size="6.5" fill="#1a1a1a" text-anchor="start" textLength="7.0" lengthAdjust="spacingAndGlyphs">4+</text>
<text x="272.5" y="598.0" font-size="11.6" fill="#1a1a1a" text-anchor="start" textLength="9.5" lengthAdjust="spacingAndGlyphs">(i)</text>
<g clip-path="url(#clipj)">
<path d="M603.4,760.7 L604.4,760.6 L605.4,760.6 L606.4,760.6 L607.4,760.5 L608.4,760.5 L609.4,760.4 L610.5,760.4 L611.5,760.3 L612.5,760.3 L613.5,760.2 L614.5,760.2 L615.5,760.1 L616.5,760.1 L617.5,760.1 L618.6,760.0 L619.6,760.0 L620.6,760.0 L621.6,759.9 L622.6,759.9 L623.6,759.9 L624.6,759.9 L625.7,759.9 L626.7,759.8 L627.7,759.8 L628.7,759.8 L629.7,759.7 L630.7,759.7 L631.7,759.6 L632.8,759.5 L633.8,759.5 L634.8,759.4 L635.8,759.3 L636.8,759.2 L637.8,759.1 L638.8,759.0 L639.8,758.9 L640.9,758.8 L641.9,758.7 L642.9,758.6 L643.9,758.4 L644.9,758.2 L645.9,758.0 L646.9,757.7 L648.0,757.4 L649.0,757.1 L650.0,756.7 L651.0,756.2 L652.0,755.6 L653.0,754.9 L654.0,754.1 L655.0,753.1 L656.1,752.0 L657.1,750.7 L658.1,749.1 L659.1,747.3 L660.1,745.3 L661.1,742.9 L662.1,740.3 L663.2,737.3 L664.2,734.0 L665.2,730.3 L666.2,726.2 L667.2,721.8 L668.2,717.1 L669.2,712.0 L670.3,706.6 L671.3,701.0 L672.3,695.2 L673.3,689.3 L674.3,683.3 L675.3,677.4 L676.3,671.5 L677.3,665.9 L678.4,660.6 L679.4,655.6 L680.4,651.2 L681.4,647.4 L682.4,644.2 L683.4,641.8 L684.4,640.2 L685.5,639.5 L686.5,639.7 L687.5,640.7 L688.5,642.6 L689.5,645.3 L690.5,648.7 L691.5,652.8 L692.6,657.5 L693.6,662.7 L694.6,668.2 L695.6,674.0 L696.6,680.0 L697.6,686.0 L698.6,692.1 L699.7,698.1 L700.7,703.9 L701.7,709.5 L702.7,714.9 L703.7,720.0 L704.7,724.7 L705.7,729.1 L706.7,733.1 L707.8,736.8 L708.8,740.1 L709.8,743.0 L710.8,745.7 L711.8,748.0 L712.8,750.0 L713.8,751.7 L714.9,753.2 L715.9,754.5 L716.9,755.6 L717.9,756.6 L718.9,757.3 L719.9,758.0 L720.9,758.5 L722.0,758.9 L723.0,759.3 L724.0,759.6 L725.0,759.8 L726.0,760.0 L727.0,760.2 L728.0,760.4 L729.0,760.5 L730.1,760.6 L731.1,760.7 L732.1,760.8 L733.1,760.8 L734.1,760.9 L735.1,761.0 L736.1,761.0 L737.2,761.1 L738.2,761.1 L739.2,761.2 L740.2,761.2 L741.2,761.2 L742.2,761.3 L743.2,761.3 L744.2,761.4 L745.3,761.4 L746.3,761.4 L747.3,761.5 L748.3,761.5 L749.3,761.5 L750.3,761.6 L751.3,761.6 L752.4,761.6 L753.4,761.7 L754.4,761.7 L755.4,761.7 L756.4,761.8 L757.4,761.8 L758.4,761.8 L759.5,761.8 L760.5,761.8 L761.5,761.9 L762.5,761.9 L763.5,761.9 L764.5,761.9 L765.5,761.9 L766.5,761.9 L767.6,761.9 L767.6,762.3 L766.5,762.3 L765.5,762.3 L764.5,762.3 L763.5,762.3 L762.5,762.3 L761.5,762.3 L760.5,762.3 L759.5,762.3 L758.4,762.2 L757.4,762.2 L756.4,762.2 L755.4,762.2 L754.4,762.2 L753.4,762.2 L752.4,762.2 L751.3,762.2 L750.3,762.1 L749.3,762.1 L748.3,762.1 L747.3,762.1 L746.3,762.1 L745.3,762.1 L744.2,762.0 L743.2,762.0 L742.2,762.0 L741.2,762.0 L740.2,762.0 L739.2,762.0 L738.2,762.0 L737.2,761.9 L736.1,761.9 L735.1,761.9 L734.1,761.9 L733.1,761.9 L732.1,761.9 L731.1,761.9 L730.1,761.9 L729.0,761.8 L728.0,761.8 L727.0,761.8 L726.0,761.8 L725.0,761.8 L724.0,761.8 L723.0,761.8 L722.0,761.8 L720.9,761.8 L719.9,761.8 L718.9,761.8 L717.9,761.8 L716.9,761.8 L715.9,761.7 L714.9,761.7 L713.8,761.7 L712.8,761.6 L711.8,761.6 L710.8,761.5 L709.8,761.5 L708.8,761.4 L707.8,761.4 L706.7,761.3 L705.7,761.2 L704.7,761.2 L703.7,761.1 L702.7,761.0 L701.7,761.0 L700.7,760.9 L699.7,760.9 L698.6,760.8 L697.6,760.8 L696.6,760.7 L695.6,760.7 L694.6,760.6 L693.6,760.6 L692.6,760.6 L691.5,760.5 L690.5,760.5 L689.5,760.5 L688.5,760.5 L687.5,760.5 L686.5,760.5 L685.5,760.5 L684.4,760.5 L683.4,760.4 L682.4,760.4 L681.4,760.4 L680.4,760.4 L679.4,760.3 L678.4,760.3 L677.3,760.2 L676.3,760.2 L675.3,760.2 L674.3,760.1 L673.3,760.1 L672.3,760.0 L671.3,760.0 L670.3,760.0 L669.2,759.9 L668.2,759.9 L667.2,759.8 L666.2,759.8 L665.2,759.8 L664.2,759.7 L663.2,759.7 L662.1,759.7 L661.1,759.6 L660.1,759.6 L659.1,759.6 L658.1,759.6 L657.1,759.6 L656.1,759.6 L655.0,759.6 L654.0,759.6 L653.0,759.6 L652.0,759.7 L651.0,759.7 L650.0,759.7 L649.0,759.7 L648.0,759.8 L646.9,759.8 L645.9,759.8 L644.9,759.9 L643.9,759.9 L642.9,760.0 L641.9,760.0 L640.9,760.0 L639.8,760.1 L638.8,760.1 L637.8,760.2 L636.8,760.2 L635.8,760.3 L634.8,760.3 L633.8,760.3 L632.8,760.4 L631.7,760.4 L630.7,760.4 L629.7,760.4 L628.7,760.5 L627.7,760.5 L626.7,760.5 L625.7,760.5 L624.6,760.5 L623.6,760.5 L622.6,760.5 L621.6,760.5 L620.6,760.5 L619.6,760.5 L618.6,760.6 L617.5,760.6 L616.5,760.6 L615.5,760.6 L614.5,760.7 L613.5,760.7 L612.5,760.7 L611.5,760.7 L610.5,760.8 L609.4,760.8 L608.4,760.9 L607.4,760.9 L606.4,760.9 L605.4,761.0 L604.4,761.0 L603.4,761.0Z" fill="url(#gyel)"/>
<path d="M630.7,760.1 L631.7,760.0 L632.8,759.9 L633.8,759.7 L634.8,759.6 L635.8,759.5 L636.8,759.3 L637.8,759.1 L638.8,759.0 L639.8,758.8 L640.9,758.6 L641.9,758.4 L642.9,758.2 L643.9,758.0 L644.9,757.9 L645.9,757.7 L646.9,757.5 L648.0,757.3 L649.0,757.2 L650.0,757.1 L651.0,756.9 L652.0,756.8 L653.0,756.8 L654.0,756.7 L655.0,756.7 L656.1,756.7 L657.1,756.7 L658.1,756.8 L659.1,756.9 L660.1,757.0 L661.1,757.1 L662.1,757.2 L663.2,757.4 L664.2,757.6 L665.2,757.7 L666.2,757.9 L667.2,758.1 L668.2,758.3 L669.2,758.5 L670.3,758.7 L671.3,758.8 L672.3,759.0 L673.3,759.2 L674.3,759.3 L675.3,759.5 L676.3,759.6 L677.3,759.7 L678.4,759.9 L679.4,760.0 L679.4,760.3 L678.4,760.3 L677.3,760.2 L676.3,760.2 L675.3,760.2 L674.3,760.1 L673.3,760.1 L672.3,760.0 L671.3,760.0 L670.3,760.0 L669.2,759.9 L668.2,759.9 L667.2,759.8 L666.2,759.8 L665.2,759.8 L664.2,759.7 L663.2,759.7 L662.1,759.7 L661.1,759.6 L660.1,759.6 L659.1,759.6 L658.1,759.6 L657.1,759.6 L656.1,759.6 L655.0,759.6 L654.0,759.6 L653.0,759.6 L652.0,759.7 L651.0,759.7 L650.0,759.7 L649.0,759.7 L648.0,759.8 L646.9,759.8 L645.9,759.8 L644.9,759.9 L643.9,759.9 L642.9,760.0 L641.9,760.0 L640.9,760.0 L639.8,760.1 L638.8,760.1 L637.8,760.2 L636.8,760.2 L635.8,760.3 L634.8,760.3 L633.8,760.3 L632.8,760.4 L631.7,760.4 L630.7,760.4Z" fill="url(#gblu)"/>
<path d="M577.0,761.8 L578.0,761.8 L579.0,761.8 L580.0,761.8 L581.1,761.8 L582.1,761.8 L583.1,761.7 L584.1,761.7 L585.1,761.7 L586.1,761.7 L587.1,761.6 L588.2,761.6 L589.2,761.6 L590.2,761.6 L591.2,761.5 L592.2,761.5 L593.2,761.5 L594.2,761.4 L595.2,761.4 L596.3,761.3 L597.3,761.3 L598.3,761.3 L599.3,761.2 L600.3,761.2 L601.3,761.1 L602.3,761.1 L603.4,761.0 L604.4,761.0 L605.4,761.0 L606.4,760.9 L607.4,760.9 L608.4,760.9 L609.4,760.8 L610.5,760.8 L611.5,760.7 L612.5,760.7 L613.5,760.7 L614.5,760.7 L615.5,760.6 L616.5,760.6 L617.5,760.6 L618.6,760.6 L619.6,760.5 L620.6,760.5 L621.6,760.5 L622.6,760.5 L623.6,760.5 L624.6,760.5 L625.7,760.5 L626.7,760.5 L627.7,760.5 L628.7,760.5 L629.7,760.4 L630.7,760.4 L631.7,760.4 L632.8,760.4 L633.8,760.3 L634.8,760.3 L635.8,760.3 L636.8,760.2 L637.8,760.2 L638.8,760.1 L639.8,760.1 L640.9,760.0 L641.9,760.0 L642.9,760.0 L643.9,759.9 L644.9,759.9 L645.9,759.8 L646.9,759.8 L648.0,759.8 L649.0,759.7 L650.0,759.7 L651.0,759.7 L652.0,759.7 L653.0,759.6 L654.0,759.6 L655.0,759.6 L656.1,759.6 L657.1,759.6 L658.1,759.6 L659.1,759.6 L660.1,759.6 L661.1,759.6 L662.1,759.7 L663.2,759.7 L664.2,759.7 L665.2,759.8 L666.2,759.8 L667.2,759.8 L668.2,759.9 L669.2,759.9 L670.3,760.0 L671.3,760.0 L672.3,760.0 L673.3,760.1 L674.3,760.1 L675.3,760.2 L676.3,760.2 L677.3,760.2 L678.4,760.3 L679.4,760.3 L680.4,760.4 L681.4,760.4 L682.4,760.4 L683.4,760.4 L684.4,760.5 L685.5,760.5 L686.5,760.5 L687.5,760.5 L688.5,760.5 L689.5,760.5 L690.5,760.5 L691.5,760.5 L692.6,760.6 L693.6,760.6 L694.6,760.6 L695.6,760.7 L696.6,760.7 L697.6,760.8 L698.6,760.8 L699.7,760.9 L700.7,760.9 L701.7,761.0 L702.7,761.0 L703.7,761.1 L704.7,761.2 L705.7,761.2 L706.7,761.3 L707.8,761.4 L708.8,761.4 L709.8,761.5 L710.8,761.5 L711.8,761.6 L712.8,761.6 L713.8,761.7 L714.9,761.7 L715.9,761.7 L716.9,761.8 L717.9,761.8 L718.9,761.8 L719.9,761.8 L720.9,761.8 L722.0,761.8 L723.0,761.8 L724.0,761.8 L725.0,761.8 L726.0,761.8 L727.0,761.8 L728.0,761.8 L729.0,761.8 L730.1,761.9 L731.1,761.9 L732.1,761.9 L733.1,761.9 L734.1,761.9 L735.1,761.9 L736.1,761.9 L737.2,761.9 L738.2,762.0 L739.2,762.0 L740.2,762.0 L741.2,762.0 L742.2,762.0 L743.2,762.0 L744.2,762.0 L745.3,762.1 L746.3,762.1 L747.3,762.1 L748.3,762.1 L749.3,762.1 L750.3,762.1 L751.3,762.2 L752.4,762.2 L753.4,762.2 L754.4,762.2 L755.4,762.2 L756.4,762.2 L757.4,762.2 L758.4,762.2 L759.5,762.3 L760.5,762.3 L761.5,762.3 L762.5,762.3 L763.5,762.3 L764.5,762.3 L765.5,762.3 L766.5,762.3 L767.6,762.3 L768.6,762.3 L769.6,762.3 L770.6,762.3 L771.6,762.3 L772.6,762.3 L773.6,762.3 L774.7,762.4 L775.7,762.4 L776.7,762.4 L777.7,762.4 L778.7,762.4 L779.7,762.5 L780.7,762.5 L781.8,762.5 L782.8,762.5 L783.8,762.5 L784.8,762.6 L785.8,762.6 L786.8,762.6 L787.8,762.6 L788.8,762.7 L789.9,762.7 L790.9,762.7 L791.9,762.7 L792.9,762.7 L793.9,762.8 L794.9,762.8 L795.9,762.8 L797.0,762.8 L798.0,762.8 L799.0,762.8 L800.0,762.8" fill="none" stroke="#b9b9b9" stroke-width="1.1"/>
<path d="M577.0,761.6 L578.0,761.6 L579.0,761.6 L580.0,761.6 L581.1,761.6 L582.1,761.5 L583.1,761.5 L584.1,761.5 L585.1,761.5 L586.1,761.4 L587.1,761.4 L588.2,761.4 L589.2,761.3 L590.2,761.3 L591.2,761.3 L592.2,761.2 L593.2,761.2 L594.2,761.1 L595.2,761.1 L596.3,761.0 L597.3,761.0 L598.3,760.9 L599.3,760.9 L600.3,760.8 L601.3,760.8 L602.3,760.7 L603.4,760.7 L604.4,760.6 L605.4,760.6 L606.4,760.6 L607.4,760.5 L608.4,760.5 L609.4,760.4 L610.5,760.4 L611.5,760.3 L612.5,760.3 L613.5,760.2 L614.5,760.2 L615.5,760.1 L616.5,760.1 L617.5,760.1 L618.6,760.0 L619.6,760.0 L620.6,759.9 L621.6,759.9 L622.6,759.8 L623.6,759.8 L624.6,759.8 L625.7,759.7 L626.7,759.7 L627.7,759.6 L628.7,759.5 L629.7,759.4 L630.7,759.3 L631.7,759.2 L632.8,759.0 L633.8,758.9 L634.8,758.7 L635.8,758.5 L636.8,758.3 L637.8,758.1 L638.8,757.9 L639.8,757.7 L640.9,757.4 L641.9,757.1 L642.9,756.8 L643.9,756.5 L644.9,756.2 L645.9,755.8 L646.9,755.4 L648.0,755.0 L649.0,754.5 L650.0,754.0 L651.0,753.4 L652.0,752.8 L653.0,752.1 L654.0,751.2 L655.0,750.2 L656.1,749.1 L657.1,747.8 L658.1,746.3 L659.1,744.6 L660.1,742.6 L661.1,740.4 L662.1,737.9 L663.2,735.0 L664.2,731.8 L665.2,728.2 L666.2,724.3 L667.2,720.1 L668.2,715.5 L669.2,710.6 L670.3,705.3 L671.3,699.9 L672.3,694.2 L673.3,688.4 L674.3,682.5 L675.3,676.7 L676.3,670.9 L677.3,665.4 L678.4,660.1 L679.4,655.3 L680.4,650.9 L681.4,647.1 L682.4,644.0 L683.4,641.6 L684.4,640.1 L685.5,639.4 L686.5,639.6 L687.5,640.7 L688.5,642.6 L689.5,645.3 L690.5,648.7 L691.5,652.8 L692.6,657.5 L693.6,662.6 L694.6,668.2 L695.6,674.0 L696.6,680.0 L697.6,686.0 L698.6,692.1 L699.7,698.1 L700.7,703.9 L701.7,709.5 L702.7,714.9 L703.7,720.0 L704.7,724.7 L705.7,729.1 L706.7,733.1 L707.8,736.8 L708.8,740.1 L709.8,743.0 L710.8,745.7 L711.8,748.0 L712.8,750.0 L713.8,751.7 L714.9,753.2 L715.9,754.5 L716.9,755.6 L717.9,756.6 L718.9,757.3 L719.9,758.0 L720.9,758.5 L722.0,758.9 L723.0,759.3 L724.0,759.6 L725.0,759.8 L726.0,760.0 L727.0,760.2 L728.0,760.4 L729.0,760.5 L730.1,760.6 L731.1,760.7 L732.1,760.8 L733.1,760.8 L734.1,760.9 L735.1,761.0 L736.1,761.0 L737.2,761.1 L738.2,761.1 L739.2,761.2 L740.2,761.2 L741.2,761.2 L742.2,761.3 L743.2,761.3 L744.2,761.4 L745.3,761.4 L746.3,761.4 L747.3,761.5 L748.3,761.5 L749.3,761.5 L750.3,761.6 L751.3,761.6 L752.4,761.6 L753.4,761.7 L754.4,761.7 L755.4,761.7 L756.4,761.8 L757.4,761.8 L758.4,761.8 L759.5,761.8 L760.5,761.8 L761.5,761.9 L762.5,761.9 L763.5,761.9 L764.5,761.9 L765.5,761.9 L766.5,761.9 L767.6,761.9 L768.6,762.0 L769.6,762.0 L770.6,762.0 L771.6,762.0 L772.6,762.0 L773.6,762.0 L774.7,762.1 L775.7,762.1 L776.7,762.1 L777.7,762.1 L778.7,762.2 L779.7,762.2 L780.7,762.2 L781.8,762.2 L782.8,762.3 L783.8,762.3 L784.8,762.3 L785.8,762.3 L786.8,762.4 L787.8,762.4 L788.8,762.4 L789.9,762.5 L790.9,762.5 L791.9,762.5 L792.9,762.5 L793.9,762.5 L794.9,762.6 L795.9,762.6 L797.0,762.6 L798.0,762.6 L799.0,762.6 L800.0,762.6" fill="none" stroke="#b6b6b6" stroke-width="1.4" stroke-linejoin="round"/>
<path d="M577.0,761.6 L578.0,761.6 L579.0,761.6 L580.0,761.6 L581.1,761.6 L582.1,761.5 L583.1,761.5 L584.1,761.5 L585.1,761.5 L586.1,761.4 L587.1,761.4 L588.2,761.4 L589.2,761.3 L590.2,761.3 L591.2,761.3 L592.2,761.2 L593.2,761.2 L594.2,761.1 L595.2,761.1 L596.3,761.0 L597.3,761.0 L598.3,760.9 L599.3,760.9 L600.3,760.8 L601.3,760.8 L602.3,760.7 L603.4,760.7 L604.4,760.6 L605.4,760.6 L606.4,760.6 L607.4,760.5 L608.4,760.5 L609.4,760.4 L610.5,760.4 L611.5,760.3 L612.5,760.3 L613.5,760.2 L614.5,760.2 L615.5,760.1 L616.5,760.1 L617.5,760.1 L618.6,760.0 L619.6,760.0 L620.6,759.9 L621.6,759.9 L622.6,759.8 L623.6,759.8 L624.6,759.8 L625.7,759.7 L626.7,759.7 L627.7,759.6 L628.7,759.5 L629.7,759.4 L630.7,759.3 L631.7,759.2 L632.8,759.0 L633.8,758.9 L634.8,758.7 L635.8,758.5 L636.8,758.3 L637.8,758.1 L638.8,757.9 L639.8,757.7 L640.9,757.4 L641.9,757.1 L642.9,756.8 L643.9,756.5 L644.9,756.2 L645.9,755.8 L646.9,755.4 L648.0,755.0 L649.0,754.5 L650.0,754.0 L651.0,753.4 L652.0,752.8 L653.0,752.1 L654.0,751.2 L655.0,750.2 L656.1,749.1 L657.1,747.8 L658.1,746.3 L659.1,744.6 L660.1,742.6 L661.1,740.4 L662.1,737.9 L663.2,735.0 L664.2,731.8 L665.2,728.2 L666.2,724.3 L667.2,720.1 L668.2,715.5 L669.2,710.6 L670.3,705.3 L671.3,699.9 L672.3,694.2 L673.3,688.4 L674.3,682.5 L675.3,676.7 L676.3,670.9 L677.3,665.4 L678.4,660.1 L679.4,655.3 L680.4,650.9 L681.4,647.1 L682.4,644.0 L683.4,641.6 L684.4,640.1 L685.5,639.4 L686.5,639.6 L687.5,640.7 L688.5,642.6 L689.5,645.3 L690.5,648.7 L691.5,652.8 L692.6,657.5 L693.6,662.6 L694.6,668.2 L695.6,674.0 L696.6,680.0 L697.6,686.0 L698.6,692.1 L699.7,698.1 L700.7,703.9 L701.7,709.5 L702.7,714.9 L703.7,720.0 L704.7,724.7 L705.7,729.1 L706.7,733.1 L707.8,736.8 L708.8,740.1 L709.8,743.0 L710.8,745.7 L711.8,748.0 L712.8,750.0 L713.8,751.7 L714.9,753.2 L715.9,754.5 L716.9,755.6 L717.9,756.6 L718.9,757.3 L719.9,758.0 L720.9,758.5 L722.0,758.9 L723.0,759.3 L724.0,759.6 L725.0,759.8 L726.0,760.0 L727.0,760.2 L728.0,760.4 L729.0,760.5 L730.1,760.6 L731.1,760.7 L732.1,760.8 L733.1,760.8 L734.1,760.9 L735.1,761.0 L736.1,761.0 L737.2,761.1 L738.2,761.1 L739.2,761.2 L740.2,761.2 L741.2,761.2 L742.2,761.3 L743.2,761.3 L744.2,761.4 L745.3,761.4 L746.3,761.4 L747.3,761.5 L748.3,761.5 L749.3,761.5 L750.3,761.6 L751.3,761.6 L752.4,761.6 L753.4,761.7 L754.4,761.7 L755.4,761.7 L756.4,761.8 L757.4,761.8 L758.4,761.8 L759.5,761.8 L760.5,761.8 L761.5,761.9 L762.5,761.9 L763.5,761.9 L764.5,761.9 L765.5,761.9 L766.5,761.9 L767.6,761.9 L768.6,762.0 L769.6,762.0 L770.6,762.0 L771.6,762.0 L772.6,762.0 L773.6,762.0 L774.7,762.1 L775.7,762.1 L776.7,762.1 L777.7,762.1 L778.7,762.2 L779.7,762.2 L780.7,762.2 L781.8,762.2 L782.8,762.3 L783.8,762.3 L784.8,762.3 L785.8,762.3 L786.8,762.4 L787.8,762.4 L788.8,762.4 L789.9,762.5 L790.9,762.5 L791.9,762.5 L792.9,762.5 L793.9,762.5 L794.9,762.6 L795.9,762.6 L797.0,762.6 L798.0,762.6 L799.0,762.6 L800.0,762.6" fill="none" stroke="#e6e6e6" stroke-width="0.5" stroke-linejoin="round"/>
</g>
<rect x="577.0" y="599.0" width="223.0" height="177.5" fill="none" stroke="#262626" stroke-width="1"/>
<line x1="577.0" y1="776.5" x2="577.0" y2="772.9" stroke="#262626" stroke-width="1"/>
<text x="577.0" y="793.2" font-size="11.6" fill="#1a1a1a" text-anchor="middle" textLength="18.4" lengthAdjust="spacingAndGlyphs">540</text>
<line x1="608.9" y1="776.5" x2="608.9" y2="772.9" stroke="#262626" stroke-width="1"/>
<text x="608.9" y="793.2" font-size="11.6" fill="#1a1a1a" text-anchor="middle" textLength="18.4" lengthAdjust="spacingAndGlyphs">538</text>
<line x1="640.7" y1="776.5" x2="640.7" y2="772.9" stroke="#262626" stroke-width="1"/>
<text x="640.7" y="793.2" font-size="11.6" fill="#1a1a1a" text-anchor="middle" textLength="18.4" lengthAdjust="spacingAndGlyphs">536</text>
<line x1="672.6" y1="776.5" x2="672.6" y2="772.9" stroke="#262626" stroke-width="1"/>
<text x="672.6" y="793.2" font-size="11.6" fill="#1a1a1a" text-anchor="middle" textLength="18.4" lengthAdjust="spacingAndGlyphs">534</text>
<line x1="704.4" y1="776.5" x2="704.4" y2="772.9" stroke="#262626" stroke-width="1"/>
<text x="704.4" y="793.2" font-size="11.6" fill="#1a1a1a" text-anchor="middle" textLength="18.4" lengthAdjust="spacingAndGlyphs">532</text>
<line x1="736.3" y1="776.5" x2="736.3" y2="772.9" stroke="#262626" stroke-width="1"/>
<text x="736.3" y="793.2" font-size="11.6" fill="#1a1a1a" text-anchor="middle" textLength="18.4" lengthAdjust="spacingAndGlyphs">530</text>
<line x1="768.1" y1="776.5" x2="768.1" y2="772.9" stroke="#262626" stroke-width="1"/>
<text x="768.1" y="793.2" font-size="11.6" fill="#1a1a1a" text-anchor="middle" textLength="18.4" lengthAdjust="spacingAndGlyphs">528</text>
<line x1="800.0" y1="776.5" x2="800.0" y2="772.9" stroke="#262626" stroke-width="1"/>
<text x="800.0" y="793.2" font-size="11.6" fill="#1a1a1a" text-anchor="middle" textLength="18.4" lengthAdjust="spacingAndGlyphs">526</text>
<line x1="592.9" y1="776.5" x2="592.9" y2="774.5" stroke="#262626" stroke-width="1"/>
<line x1="624.8" y1="776.5" x2="624.8" y2="774.5" stroke="#262626" stroke-width="1"/>
<line x1="656.6" y1="776.5" x2="656.6" y2="774.5" stroke="#262626" stroke-width="1"/>
<line x1="688.5" y1="776.5" x2="688.5" y2="774.5" stroke="#262626" stroke-width="1"/>
<line x1="720.4" y1="776.5" x2="720.4" y2="774.5" stroke="#262626" stroke-width="1"/>
<line x1="752.2" y1="776.5" x2="752.2" y2="774.5" stroke="#262626" stroke-width="1"/>
<line x1="784.1" y1="776.5" x2="784.1" y2="774.5" stroke="#262626" stroke-width="1"/>
<text x="689.0" y="810.8" font-size="11.6" fill="#1a1a1a" text-anchor="middle" textLength="105.5" lengthAdjust="spacingAndGlyphs">Binding energy (eV)</text>
<text transform="translate(561.6,688.0) rotate(-90)" font-size="11.6" fill="#1a1a1a" text-anchor="middle" textLength="46.0" lengthAdjust="spacingAndGlyphs">Intensity</text>
<text x="703.5" y="643.3" font-size="11.6" fill="#1a1a1a" text-anchor="start" textLength="24.0" lengthAdjust="spacingAndGlyphs">O 1s</text>
<text x="675.8" y="718.2" font-size="11.6" fill="#1a1a1a" text-anchor="start" textLength="24.2" lengthAdjust="spacingAndGlyphs">Si–O</text>
<text x="637.5" y="748.0" font-size="11.6" fill="#1a1a1a" text-anchor="start" textLength="22.4" lengthAdjust="spacingAndGlyphs">C–O</text>
<text x="543.5" y="598.0" font-size="11.6" fill="#1a1a1a" text-anchor="start" textLength="9.5" lengthAdjust="spacingAndGlyphs">(j)</text>
</svg></body></html>
